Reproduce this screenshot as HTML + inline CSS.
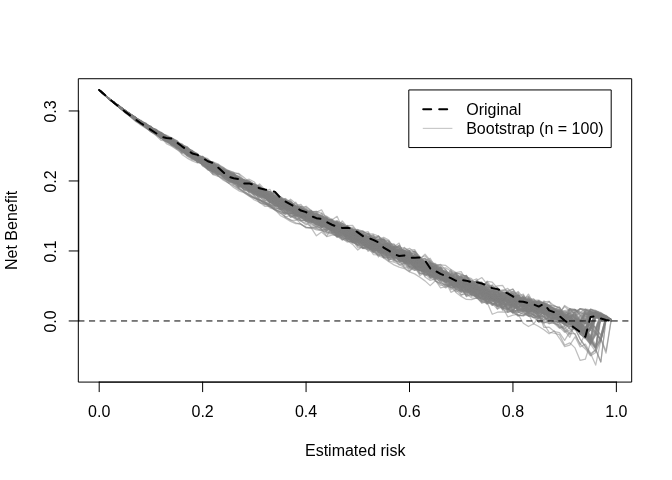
<!DOCTYPE html>
<html lang="en">
<head>
<meta charset="utf-8">
<title>Decision curve stability</title>
<style>
html,body{margin:0;padding:0;background:#fff}
body{width:672px;height:480px;overflow:hidden}
svg{display:block}
</style>
</head>
<body>
<svg width="672" height="480" viewBox="0 0 672 480">
<rect width="672" height="480" fill="#fff"/>
<g fill="none" stroke="#7f7f7f" stroke-opacity="0.5" stroke-width="1.25" stroke-linejoin="round" stroke-linecap="round">
<path d="M99.2 89.96L104.37 94.6L109.54 99.18L114.72 102.93L119.89 107.36L125.06 111.22L130.23 113.97L135.4 117.9L140.57 121.37L145.75 124.7L150.92 127.74L156.09 133.89L161.26 133.44L166.43 137.25L171.6 141.36L176.78 143.74L181.95 148.07L187.12 151.16L192.29 156.54L197.46 159.91L202.63 159.74L207.81 164.07L212.98 168.3L218.15 168.85L223.32 174.72L228.49 175.99L233.66 180.2L238.84 182.57L244.01 187.11L249.18 189.25L254.35 193.24L259.52 195.15L264.69 192.8L269.87 194.28L275.04 196.03L280.21 200.36L285.38 203.96L290.55 208.74L295.72 208.48L300.9 213.06L306.07 216.36L311.24 218.87L316.41 219.49L321.58 221.03L326.75 222.21L331.93 225.95L337.1 228.04L342.27 220.9L347.44 227.11L352.61 229.09L357.78 229.62L362.96 231.07L368.13 238.31L373.3 237.01L378.47 236.84L383.64 242.75L388.82 243.75L393.99 243.88L399.16 251.27L404.33 253.37L409.5 258.43L414.67 255.19L419.85 265.45L425.02 263.38L430.19 266.07L435.36 267.81L440.53 272.89L445.7 273.81L450.88 282.34L456.05 280.59L461.22 287.18L466.39 289.55L471.56 289.18L476.73 297.42L481.91 303.27L487.08 301.43L492.25 303.17L497.42 303.93L502.59 304.14L507.76 305.04L512.94 302.29L518.11 307L523.28 310.64L528.45 309.01L533.62 309.28L538.79 313.31L543.97 311.68L549.14 316.74L554.31 319.35L559.48 314.26L564.65 319.69L569.82 319.11L575 319.03L580.17 324.16L585.34 329.59L590.51 311.16L595.68 313.26L600.85 314.66L606.03 316.76L611.2 320.26"/>
<path d="M99.2 89.96L104.37 94.62L109.54 99.22L114.72 103.29L119.89 106.7L125.06 111.58L130.23 116.49L135.4 121.4L140.57 124.09L145.75 127.1L150.92 131.8L156.09 133.98L161.26 137.49L166.43 139.94L171.6 144.24L176.78 145.67L181.95 148.01L187.12 151.23L192.29 159.2L197.46 160.85L202.63 164.03L207.81 165.01L212.98 170.08L218.15 173.17L223.32 173.4L228.49 177.11L233.66 178.96L238.84 179.67L244.01 185.41L249.18 187.37L254.35 191.22L259.52 191.82L264.69 195.66L269.87 202.03L275.04 201.18L280.21 201.77L285.38 206.78L290.55 210.44L295.72 213.36L300.9 212.33L306.07 217.78L311.24 219.64L316.41 220.73L321.58 220.07L326.75 222.24L331.93 223.71L337.1 229.61L342.27 227.85L347.44 232.76L352.61 235.66L357.78 229.49L362.96 235.05L368.13 240.03L373.3 239.83L378.47 240.12L383.64 239.77L388.82 243.53L393.99 249.33L399.16 248.44L404.33 250.05L409.5 253.27L414.67 253.91L419.85 259.02L425.02 261.25L430.19 268.23L435.36 265.32L440.53 265.84L445.7 273.76L450.88 276.7L456.05 279.12L461.22 278.55L466.39 289.53L471.56 293.59L476.73 294.39L481.91 294.6L487.08 303.33L492.25 302.86L497.42 306.58L502.59 308.17L507.76 309.73L512.94 312.96L518.11 310.24L523.28 309.82L528.45 315.99L533.62 317.05L538.79 316.45L543.97 323.13L549.14 320.85L554.31 317.98L559.48 316.38L564.65 319.45L569.82 322.05L575 323.16L580.17 329.06L585.34 334.49L590.51 340.56L595.68 332.16L600.85 340.09L606.03 318.86L611.2 319.56"/>
<path d="M99.2 89.96L104.37 94.58L109.54 99.3L114.72 103L119.89 107.11L125.06 110.95L130.23 114.27L135.4 117.98L140.57 121.87L145.75 123.95L150.92 127.32L156.09 130.84L161.26 133.85L166.43 137.1L171.6 141.47L176.78 144.3L181.95 147.38L187.12 148.74L192.29 156.34L197.46 157.09L202.63 160.65L207.81 163.57L212.98 165.74L218.15 169.04L223.32 172.94L228.49 178.36L233.66 181.98L238.84 188.29L244.01 192.5L249.18 195.77L254.35 199.97L259.52 202.21L264.69 206.29L269.87 206.39L275.04 209.7L280.21 211.56L285.38 212.3L290.55 214.77L295.72 215.73L300.9 216.04L306.07 216.75L311.24 221.1L316.41 220.28L321.58 222.39L326.75 224.12L331.93 221.64L337.1 230.56L342.27 229.95L347.44 236.42L352.61 235.14L357.78 238.41L362.96 245.63L368.13 244.93L373.3 243.29L378.47 246.36L383.64 246.32L388.82 250.25L393.99 247.97L399.16 250.65L404.33 255.7L409.5 255.16L414.67 263L419.85 257.89L425.02 265.95L430.19 263.28L435.36 270.01L440.53 275.71L445.7 276.74L450.88 279.51L456.05 282.22L461.22 288.39L466.39 284.53L471.56 287.7L476.73 288.96L481.91 294.01L487.08 291.67L492.25 295.06L497.42 297.11L502.59 295.24L507.76 294.44L512.94 299.17L518.11 302.89L523.28 306.08L528.45 307.75L533.62 308.68L538.79 306.66L543.97 313.08L549.14 309.17L554.31 312.75L559.48 314.29L564.65 318.48L569.82 318.09L575 313.67L580.17 320.66L585.34 316.53L590.51 309.06L595.68 310.46L600.85 312.56L606.03 316.06L611.2 319.56"/>
<path d="M99.2 89.96L104.37 94.61L109.54 99.43L114.72 103.08L119.89 107.59L125.06 110.71L130.23 115.4L135.4 118.6L140.57 121.6L145.75 125.57L150.92 129.5L156.09 132.56L161.26 136.33L166.43 140.61L171.6 142.49L176.78 143.98L181.95 148.43L187.12 150.19L192.29 156L197.46 156.69L202.63 159.89L207.81 162.19L212.98 167.48L218.15 168.17L223.32 174.2L228.49 176.65L233.66 181.71L238.84 181.08L244.01 185.89L249.18 187.11L254.35 189.2L259.52 188.15L264.69 196.69L269.87 197.73L275.04 199.27L280.21 204.7L285.38 207.33L290.55 208.29L295.72 210.77L300.9 209.68L306.07 206.21L311.24 210.57L316.41 216.78L321.58 219.79L326.75 219.87L331.93 221.04L337.1 225.43L342.27 228.22L347.44 226.97L352.61 229.74L357.78 236.12L362.96 241.67L368.13 244.38L373.3 244.62L378.47 249.97L383.64 245.56L388.82 254.29L393.99 256.52L399.16 255.9L404.33 262.22L409.5 270.58L414.67 266.38L419.85 267.34L425.02 276.93L430.19 280.38L435.36 278.91L440.53 281.11L445.7 275.41L450.88 287.73L456.05 287.45L461.22 283.66L466.39 285.14L471.56 285.68L476.73 289.44L481.91 291.42L487.08 289.31L492.25 298.26L497.42 296.19L502.59 293.65L507.76 294.33L512.94 297.79L518.11 300.67L523.28 302.94L528.45 302.16L533.62 304.1L538.79 306.05L543.97 303.3L549.14 305.02L554.31 312.15L559.48 311.17L564.65 311.15L569.82 314.28L575 316.97L580.17 322.76L585.34 327.49L590.51 309.76L595.68 311.16L600.85 313.26L606.03 316.06L611.2 319.56"/>
<path d="M99.2 89.96L104.37 94.6L109.54 99.33L114.72 103.07L119.89 106.8L125.06 111.23L130.23 114.48L135.4 118.13L140.57 121.73L145.75 124.82L150.92 129.11L156.09 131.52L161.26 136.27L166.43 136.45L171.6 141.23L176.78 143.4L181.95 147.5L187.12 152.06L192.29 153.34L197.46 162.4L202.63 162.7L207.81 167.99L212.98 172.02L218.15 171.33L223.32 175.94L228.49 175.39L233.66 176.96L238.84 180.33L244.01 184.01L249.18 187.46L254.35 186.72L259.52 191.34L264.69 193.88L269.87 193.52L275.04 193.41L280.21 196.73L285.38 201.71L290.55 202.62L295.72 204.52L300.9 209.45L306.07 211.78L311.24 212.38L316.41 217.9L321.58 219L326.75 220.38L331.93 220.27L337.1 228.7L342.27 229.48L347.44 234.71L352.61 234.69L357.78 235.56L362.96 241.8L368.13 244.5L373.3 249.29L378.47 250.99L383.64 251.81L388.82 254.61L393.99 256.5L399.16 258.51L404.33 259.35L409.5 259.41L414.67 263.26L419.85 266.32L425.02 269.48L430.19 269.41L435.36 265.04L440.53 275.83L445.7 275.48L450.88 274.6L456.05 278.8L461.22 282.71L466.39 283.71L471.56 281.8L476.73 285.27L481.91 294.71L487.08 292.67L492.25 298.02L497.42 298.66L502.59 298.83L507.76 302.42L512.94 302.47L518.11 306.72L523.28 303.47L528.45 306.21L533.62 308.14L538.79 304.7L543.97 313.12L549.14 315.04L554.31 317.47L559.48 322.03L564.65 323.71L569.82 328.31L575 327.8L580.17 333.26L585.34 337.99L590.51 316.76L595.68 318.16L600.85 318.86L606.03 319.56L611.2 320.26"/>
<path d="M99.2 89.96L104.37 94.57L109.54 99.25L114.72 102.94L119.89 106.62L125.06 111.32L130.23 115.4L135.4 119.13L140.57 122.74L145.75 125.78L150.92 126.91L156.09 130.34L161.26 134.67L166.43 136.26L171.6 138.88L176.78 143.85L181.95 148.29L187.12 150.11L192.29 151.67L197.46 156.65L202.63 158.4L207.81 161.63L212.98 163.57L218.15 165.61L223.32 169.88L228.49 174.62L233.66 174.64L238.84 177.18L244.01 181.62L249.18 182.77L254.35 190.14L259.52 192.73L264.69 193.11L269.87 194.46L275.04 197.94L280.21 201.54L285.38 205.13L290.55 208.89L295.72 215.56L300.9 215.49L306.07 217.49L311.24 218.36L316.41 218.27L321.58 218.74L326.75 226.02L331.93 227.28L337.1 225.02L342.27 230.82L347.44 235.59L352.61 234.14L357.78 233.8L362.96 238.87L368.13 233.83L373.3 241.44L378.47 244.39L383.64 244.85L388.82 247.1L393.99 253.51L399.16 256.16L404.33 257.39L409.5 252.23L414.67 265.52L419.85 261.31L425.02 268.41L430.19 272.33L435.36 269.14L440.53 271.52L445.7 272.29L450.88 275.5L456.05 281.63L461.22 284.1L466.39 284.95L471.56 283.31L476.73 282.3L481.91 286.7L487.08 286.32L492.25 288.43L497.42 290.95L502.59 297.22L507.76 299.93L512.94 303.54L518.11 300.04L523.28 309.04L528.45 305.97L533.62 307.67L538.79 304.25L543.97 305.87L549.14 312L554.31 310.76L559.48 312.89L564.65 316.58L569.82 320.65L575 322.25L580.17 331.16L585.34 335.89L590.51 315.36L595.68 316.06L600.85 316.76L606.03 318.86L611.2 320.26"/>
<path d="M99.2 89.96L104.37 94.69L109.54 99.1L114.72 103.14L119.89 106.65L125.06 110.61L130.23 115.64L135.4 118L140.57 121.51L145.75 123.94L150.92 127.57L156.09 130.61L161.26 136.54L166.43 138.13L171.6 141.92L176.78 146.15L181.95 150.32L187.12 154.52L192.29 153.83L197.46 154.47L202.63 161.56L207.81 163.47L212.98 166.44L218.15 170.38L223.32 172.43L228.49 178.28L233.66 179.1L238.84 181.47L244.01 183.41L249.18 186.73L254.35 190.95L259.52 193.96L264.69 196.32L269.87 196.57L275.04 201.67L280.21 205.32L285.38 207.33L290.55 206.69L295.72 210.95L300.9 210.85L306.07 212.77L311.24 211.24L316.41 212.17L321.58 209.91L326.75 219.2L331.93 220.61L337.1 222.95L342.27 229.07L347.44 231.13L352.61 229.47L357.78 238.51L362.96 245.27L368.13 247.8L373.3 248.72L378.47 251.4L383.64 257.94L388.82 257.98L393.99 254.19L399.16 256.29L404.33 262.18L409.5 263.29L414.67 265.98L419.85 272.87L425.02 274.47L430.19 274.65L435.36 280.09L440.53 287.79L445.7 286.56L450.88 284.62L456.05 283.62L461.22 291.71L466.39 281.58L471.56 293.97L476.73 292.29L481.91 296.04L487.08 298.26L492.25 303.6L497.42 306.08L502.59 303.08L507.76 308.71L512.94 313.25L518.11 294.64L523.28 300.94L528.45 301.45L533.62 312.42L538.79 310.88L543.97 309.82L549.14 309.52L554.31 312.69L559.48 315.14L564.65 315.5L569.82 322.79L575 326.08L580.17 331.16L585.34 335.89L590.51 316.06L595.68 315.36L600.85 317.46L606.03 319.56L611.2 320.26"/>
<path d="M99.2 89.96L104.37 94.66L109.54 99.31L114.72 102.95L119.89 107.89L125.06 111.71L130.23 116.06L135.4 119.63L140.57 122.55L145.75 126.45L150.92 129.49L156.09 133.4L161.26 136.76L166.43 139.56L171.6 140.36L176.78 141.73L181.95 146.42L187.12 151.92L192.29 151.9L197.46 157.98L202.63 160.69L207.81 164.21L212.98 167.99L218.15 170.51L223.32 174.76L228.49 176.79L233.66 179.86L238.84 182L244.01 186.66L249.18 188.42L254.35 192.16L259.52 190.09L264.69 192.84L269.87 198.44L275.04 200.79L280.21 203.49L285.38 205.38L290.55 204.97L295.72 210.76L300.9 216.17L306.07 213.08L311.24 222.52L316.41 222.12L321.58 229.43L326.75 236.23L331.93 226.82L337.1 231.99L342.27 239.85L347.44 237.41L352.61 240.06L357.78 242.75L362.96 247.19L368.13 245.88L373.3 245.25L378.47 247.6L383.64 244.97L388.82 250.97L393.99 247.8L399.16 257.84L404.33 255.95L409.5 266.32L414.67 268.68L419.85 264.95L425.02 275.09L430.19 273.24L435.36 280.43L440.53 285.39L445.7 284.61L450.88 287.3L456.05 291.92L461.22 289.58L466.39 290.49L471.56 295.34L476.73 291.84L481.91 289.75L487.08 292.58L492.25 290.79L497.42 287.42L502.59 297.02L507.76 302.46L512.94 306.31L518.11 309.73L523.28 309.85L528.45 312.31L533.62 315.18L538.79 318.38L543.97 314.34L549.14 320.49L554.31 321.56L559.48 327.76L564.65 325.62L569.82 326.21L575 328.62L580.17 339.06L585.34 346.86L590.51 353.86L595.68 349.66L600.85 340.79L606.03 319.56L611.2 320.26"/>
<path d="M99.2 89.96L104.37 94.57L109.54 99.14L114.72 102.83L119.89 106.76L125.06 110.74L130.23 114.86L135.4 117.89L140.57 122.44L145.75 125.66L150.92 128.5L156.09 130.95L161.26 136.93L166.43 138.16L171.6 142.65L176.78 146.45L181.95 149.3L187.12 151.1L192.29 153.61L197.46 156.19L202.63 161.62L207.81 162.61L212.98 162.61L218.15 173.07L223.32 171.84L228.49 176.3L233.66 177.88L238.84 182.87L244.01 190.41L249.18 189.71L254.35 191.01L259.52 195.83L264.69 199.71L269.87 201.72L275.04 206.07L280.21 204.51L285.38 209.77L290.55 208.86L295.72 215.77L300.9 212.72L306.07 215.23L311.24 220.02L316.41 217.78L321.58 220.84L326.75 221.93L331.93 218.78L337.1 225.94L342.27 230.06L347.44 228.41L352.61 234.49L357.78 233.79L362.96 237.59L368.13 244.32L373.3 245.28L378.47 243.65L383.64 246.15L388.82 250.85L393.99 255.39L399.16 255.68L404.33 261.34L409.5 259.29L414.67 268.27L419.85 273.75L425.02 273.49L430.19 274.13L435.36 276.08L440.53 279.42L445.7 277.92L450.88 277.97L456.05 285.48L461.22 287.03L466.39 281.6L471.56 287.39L476.73 285.76L481.91 283.79L487.08 288.94L492.25 294.71L497.42 291.64L502.59 297.66L507.76 301.71L512.94 300.29L518.11 301.91L523.28 304.73L528.45 305.99L533.62 304.96L538.79 311.52L543.97 309.34L549.14 312.72L554.31 312.99L559.48 318.59L564.65 320.16L569.82 322.94L575 320.47L580.17 327.66L585.34 320.73L590.51 313.26L595.68 313.26L600.85 315.36L606.03 318.16L611.2 319.56"/>
<path d="M99.2 89.96L104.37 94.62L109.54 99.26L114.72 103.01L119.89 107.82L125.06 112.04L130.23 115.3L135.4 120.37L140.57 123.41L145.75 126.24L150.92 130.01L156.09 132.17L161.26 136.19L166.43 138.57L171.6 141.05L176.78 144.2L181.95 145.3L187.12 146.7L192.29 151.57L197.46 157.78L202.63 160.5L207.81 164.74L212.98 164.33L218.15 168.98L223.32 172.24L228.49 175.41L233.66 174.96L238.84 179.09L244.01 180.21L249.18 184.55L254.35 188.45L259.52 189.04L264.69 188.8L269.87 194.03L275.04 196.44L280.21 199.1L285.38 200.11L290.55 202.15L295.72 206.05L300.9 204.47L306.07 210.39L311.24 213.75L316.41 217.96L321.58 219.89L326.75 227.23L331.93 227.64L337.1 229.28L342.27 232.52L347.44 239.67L352.61 235.74L357.78 241.08L362.96 243.35L368.13 246.7L373.3 248.63L378.47 249.71L383.64 253.19L388.82 255.76L393.99 253.29L399.16 255.5L404.33 259L409.5 260.68L414.67 262.99L419.85 258.77L425.02 258.6L430.19 267.4L435.36 266.46L440.53 267.89L445.7 274.42L450.88 271.37L456.05 281.75L461.22 286.75L466.39 289.75L471.56 287.27L476.73 285.09L481.91 288.7L487.08 290.43L492.25 298.5L497.42 294.49L502.59 300.67L507.76 299.65L512.94 301.03L518.11 301.19L523.28 302.4L528.45 300.69L533.62 302.39L538.79 301.61L543.97 302.55L549.14 309.24L554.31 312.57L559.48 313L564.65 313.78L569.82 322.51L575 318.24L580.17 327.66L585.34 332.39L590.51 313.96L595.68 315.36L600.85 315.36L606.03 318.16L611.2 320.26"/>
<path d="M99.2 89.96L104.37 94.53L109.54 99.25L114.72 102.82L119.89 107.1L125.06 110.76L130.23 114.78L135.4 118.65L140.57 121.01L145.75 127.37L150.92 129.22L156.09 131.52L161.26 135.36L166.43 140.09L171.6 140.83L176.78 143.95L181.95 150.31L187.12 152.03L192.29 158.92L197.46 160.5L202.63 163.99L207.81 163.94L212.98 171.43L218.15 169.44L223.32 172.74L228.49 174.47L233.66 180.97L238.84 184.76L244.01 182.84L249.18 192.15L254.35 194.74L259.52 194.72L264.69 196.84L269.87 196.65L275.04 199.89L280.21 208.73L285.38 213.92L290.55 209.4L295.72 210.98L300.9 215.62L306.07 216.94L311.24 221.81L316.41 220.24L321.58 225.18L326.75 227.48L331.93 225.34L337.1 227.78L342.27 223.55L347.44 226.95L352.61 230.48L357.78 230.61L362.96 231.36L368.13 235.92L373.3 241L378.47 241.48L383.64 241.53L388.82 250.34L393.99 251.28L399.16 252.02L404.33 257.15L409.5 264.78L414.67 266.46L419.85 270.41L425.02 270.24L430.19 272.44L435.36 274.47L440.53 280.33L445.7 286.88L450.88 285.17L456.05 284.48L461.22 285.39L466.39 283.48L471.56 291.67L476.73 294.38L481.91 293.06L487.08 301.43L492.25 305.26L497.42 299.93L502.59 305.45L507.76 307.92L512.94 312.7L518.11 315.15L523.28 315.75L528.45 311.74L533.62 308.48L538.79 317.15L543.97 312.55L549.14 317.71L554.31 321.17L559.48 322.56L564.65 329.12L569.82 334.91L575 321.2L580.17 331.16L585.34 335.89L590.51 344.06L595.68 317.46L600.85 318.16L606.03 318.16L611.2 319.56"/>
<path d="M99.2 89.96L104.37 94.64L109.54 99.28L114.72 102.75L119.89 107.2L125.06 111.6L130.23 115.78L135.4 120.32L140.57 124.06L145.75 125.73L150.92 129.8L156.09 132.75L161.26 136.17L166.43 140.05L171.6 142.81L176.78 146.83L181.95 150.6L187.12 154.88L192.29 156.26L197.46 160.87L202.63 160.94L207.81 166.02L212.98 167.02L218.15 167.74L223.32 171.91L228.49 172.23L233.66 176.85L238.84 179.32L244.01 183.14L249.18 184.97L254.35 184.77L259.52 189.21L264.69 191.59L269.87 197.69L275.04 202.27L280.21 206.74L285.38 212.01L290.55 215.39L295.72 217.72L300.9 221.21L306.07 223.41L311.24 226.57L316.41 228.2L321.58 230.01L326.75 231.79L331.93 233.48L337.1 235.78L342.27 237.6L347.44 238.83L352.61 239.04L357.78 241.22L362.96 237.35L368.13 246.18L373.3 243.05L378.47 249.05L383.64 251.73L388.82 247.37L393.99 255.84L399.16 258.41L404.33 258.78L409.5 260.23L414.67 254.74L419.85 261.73L425.02 263.45L430.19 269.58L435.36 269.81L440.53 270.83L445.7 271.97L450.88 279.96L456.05 282.23L461.22 288L466.39 295.68L471.56 294.62L476.73 295.2L481.91 301.69L487.08 296.55L492.25 296.92L497.42 303.28L502.59 308.94L507.76 301.51L512.94 303.86L518.11 304.94L523.28 305.88L528.45 313.54L533.62 314.1L538.79 318.19L543.97 319.77L549.14 311.76L554.31 310.59L559.48 311.58L564.65 315.52L569.82 319.76L575 320.5L580.17 324.16L585.34 319.33L590.51 324.46L595.68 312.56L600.85 314.66L606.03 315.36L611.2 319.56"/>
<path d="M99.2 89.96L104.37 94.52L109.54 99.18L114.72 103.05L119.89 106.42L125.06 111.34L130.23 114.77L135.4 117.89L140.57 121.22L145.75 123.57L150.92 128.13L156.09 129.4L161.26 134.34L166.43 137.19L171.6 141.8L176.78 141.67L181.95 146.98L187.12 149.2L192.29 151.42L197.46 157.9L202.63 166.05L207.81 169.11L212.98 174.36L218.15 176.33L223.32 179.33L228.49 182.99L233.66 187.5L238.84 190.8L244.01 192.77L249.18 196.32L254.35 197.86L259.52 200.25L264.69 202.69L269.87 205.1L275.04 207.65L280.21 208.94L285.38 210.17L290.55 213.76L295.72 213.41L300.9 215.09L306.07 216.13L311.24 218.56L316.41 222.07L321.58 227.05L326.75 222.3L331.93 226.66L337.1 227.86L342.27 228.2L347.44 229.55L352.61 234.03L357.78 237.61L362.96 235.05L368.13 238.53L373.3 245.05L378.47 248.24L383.64 249.09L388.82 253.15L393.99 258.56L399.16 256.13L404.33 260.58L409.5 263.98L414.67 260.73L419.85 262.42L425.02 266.55L430.19 265.82L435.36 268.16L440.53 272.63L445.7 271.91L450.88 276.77L456.05 276.13L461.22 283.3L466.39 288.02L471.56 288.92L476.73 287.42L481.91 290.93L487.08 286.97L492.25 287.2L497.42 296.8L502.59 296.19L507.76 301.83L512.94 298.14L518.11 301.32L523.28 295.2L528.45 302.15L533.62 310.73L538.79 310L543.97 311.98L549.14 317.61L554.31 319.57L559.48 316.65L564.65 313.74L569.82 317.39L575 321.38L580.17 327.66L585.34 333.09L590.51 327.26L595.68 313.26L600.85 316.06L606.03 316.76L611.2 319.56"/>
<path d="M99.2 89.96L104.37 94.55L109.54 99.27L114.72 103L119.89 107.46L125.06 110.22L130.23 113.76L135.4 117.38L140.57 121.76L145.75 125.39L150.92 128.52L156.09 132.09L161.26 135.5L166.43 137.2L171.6 143.15L176.78 146.77L181.95 149.37L187.12 151.89L192.29 158.45L197.46 157.04L202.63 160.26L207.81 164.32L212.98 168.35L218.15 170.86L223.32 174.16L228.49 179.18L233.66 176.87L238.84 177.62L244.01 182.63L249.18 182.05L254.35 188.99L259.52 192.75L264.69 192.55L269.87 197.4L275.04 199.86L280.21 201.08L285.38 206.43L290.55 209.81L295.72 208.06L300.9 211.65L306.07 216.53L311.24 217.59L316.41 220.71L321.58 221.18L326.75 225.57L331.93 226.31L337.1 236.64L342.27 238.58L347.44 242.21L352.61 241.06L357.78 240.93L362.96 239.72L368.13 245.93L373.3 247.05L378.47 250.16L383.64 252.31L388.82 253.99L393.99 255.35L399.16 261.07L404.33 259.63L409.5 262.35L414.67 266.41L419.85 270.74L425.02 271.75L430.19 265.12L435.36 279.35L440.53 272.92L445.7 273.25L450.88 277.48L456.05 279.32L461.22 276.87L466.39 275.37L471.56 284.28L476.73 285.42L481.91 288.86L487.08 293.54L492.25 294L497.42 302.4L502.59 302.8L507.76 309.82L512.94 301.93L518.11 311.83L523.28 314.48L528.45 311.77L533.62 311.4L538.79 308.26L543.97 313.81L549.14 315.16L554.31 316.4L559.48 311.61L564.65 310.72L569.82 309.55L575 309.77L580.17 314.86L585.34 319.33L590.51 309.06L595.68 311.86L600.85 313.96L606.03 316.76L611.2 320.96"/>
<path d="M99.2 89.96L104.37 94.6L109.54 99.31L114.72 103.08L119.89 106.47L125.06 110.64L130.23 114.27L135.4 117.92L140.57 122.07L145.75 125.56L150.92 130.15L156.09 132.2L161.26 136.74L166.43 139.95L171.6 141.14L176.78 146.54L181.95 152.94L187.12 152.79L192.29 156.38L197.46 157.23L202.63 157.89L207.81 164.98L212.98 166.29L218.15 172.89L223.32 175.63L228.49 178.48L233.66 180.33L238.84 186.8L244.01 185.75L249.18 193.41L254.35 197.29L259.52 200.07L264.69 202.75L269.87 207.93L275.04 209.56L280.21 215.46L285.38 218.19L290.55 221.38L295.72 223.72L300.9 223.95L306.07 227.89L311.24 227.65L316.41 228.81L321.58 230.34L326.75 231.78L331.93 232.04L337.1 232.84L342.27 230.88L347.44 236.86L352.61 234.03L357.78 238.96L362.96 241.37L368.13 245.56L373.3 250.7L378.47 248.77L383.64 250.81L388.82 249.94L393.99 258L399.16 252.53L404.33 258.79L409.5 259.62L414.67 259.82L419.85 260.9L425.02 267.26L430.19 270.56L435.36 272.84L440.53 270.07L445.7 276.09L450.88 275.17L456.05 282.75L461.22 285.69L466.39 284.27L471.56 291.52L476.73 297.37L481.91 302.67L487.08 299.71L492.25 297.92L497.42 291.31L502.59 296L507.76 295.32L512.94 298.59L518.11 298.61L523.28 297.75L528.45 303.31L533.62 302.73L538.79 305.06L543.97 305.93L549.14 310.9L554.31 314.33L559.48 318.41L564.65 323.8L569.82 322.89L575 322.96L580.17 333.96L585.34 327.03L590.51 330.06L595.68 317.46L600.85 318.16L606.03 318.16L611.2 320.96"/>
<path d="M99.2 89.96L104.37 94.71L109.54 99.2L114.72 103.01L119.89 106.91L125.06 110.53L130.23 113.79L135.4 117.42L140.57 121.57L145.75 125.17L150.92 129.42L156.09 129.67L161.26 132.31L166.43 136.1L171.6 138.86L176.78 144.34L181.95 145.94L187.12 150.58L192.29 154.4L197.46 153.91L202.63 161.77L207.81 163.1L212.98 166.91L218.15 169.72L223.32 171.25L228.49 176.1L233.66 181.32L238.84 181.21L244.01 187.25L249.18 189.6L254.35 192.9L259.52 191.24L264.69 191.6L269.87 197.18L275.04 204.18L280.21 203.95L285.38 204.05L290.55 208.47L295.72 206.32L300.9 208.36L306.07 212.35L311.24 212.99L316.41 214.06L321.58 217.1L326.75 222.51L331.93 222.49L337.1 231.4L342.27 233.53L347.44 234.44L352.61 238.06L357.78 239.98L362.96 244.72L368.13 243.69L373.3 240.79L378.47 241.92L383.64 243.59L388.82 244.11L393.99 250.45L399.16 249.59L404.33 251.63L409.5 257.09L414.67 259.01L419.85 258.77L425.02 263.74L430.19 269.73L435.36 273.27L440.53 277.84L445.7 278.06L450.88 284L456.05 288.89L461.22 290.37L466.39 294.07L471.56 297.81L476.73 298.49L481.91 298.76L487.08 299L492.25 297.24L497.42 306.03L502.59 303.48L507.76 303.85L512.94 306.62L518.11 308.86L523.28 311.15L528.45 307.63L533.62 312.05L538.79 316.81L543.97 311.36L549.14 314.39L554.31 319.45L559.48 318.08L564.65 325.99L569.82 324.07L575 330.13L580.17 331.16L585.34 335.19L590.51 341.96L595.68 333.56L600.85 339.39L606.03 318.86L611.2 320.26"/>
<path d="M99.2 89.96L104.37 94.59L109.54 99.44L114.72 103L119.89 107.11L125.06 111.08L130.23 114.72L135.4 118.59L140.57 122.19L145.75 125.39L150.92 129.18L156.09 133.89L161.26 137.22L166.43 140.95L171.6 142.82L176.78 146.98L181.95 150.7L187.12 154.81L192.29 156.96L197.46 159.19L202.63 164.36L207.81 169.32L212.98 172.28L218.15 171.12L223.32 177.46L228.49 181.02L233.66 181.76L238.84 184.59L244.01 188.94L249.18 191.41L254.35 188.95L259.52 195.18L264.69 197.8L269.87 201.54L275.04 206.37L280.21 210.18L285.38 207.51L290.55 209.48L295.72 211.52L300.9 215.53L306.07 218.13L311.24 218.04L316.41 222.84L321.58 220.21L326.75 220.45L331.93 220.7L337.1 226.45L342.27 231.1L347.44 234.43L352.61 241.01L357.78 235.36L362.96 235.88L368.13 237.48L373.3 240.55L378.47 243.52L383.64 248.27L388.82 248.25L393.99 247.13L399.16 254.13L404.33 254.74L409.5 256.53L414.67 251.13L419.85 258.18L425.02 265.22L430.19 274.77L435.36 269.96L440.53 277.17L445.7 278.69L450.88 282.39L456.05 283.72L461.22 287.22L466.39 286.44L471.56 283.32L476.73 287.94L481.91 292.29L487.08 293.97L492.25 294.58L497.42 297.09L502.59 295.95L507.76 299.39L512.94 305.35L518.11 293.75L523.28 300.61L528.45 298.88L533.62 299.21L538.79 304.16L543.97 305.81L549.14 305.62L554.31 308.82L559.48 312.49L564.65 306.51L569.82 310.99L575 313.27L580.17 321.86L585.34 313.96L590.51 314.66L595.68 316.06L600.85 317.46L606.03 318.86L611.2 319.56"/>
<path d="M99.2 89.96L104.37 94.58L109.54 99.19L114.72 103.08L119.89 107.03L125.06 110.86L130.23 114.38L135.4 118.71L140.57 121.93L145.75 125.1L150.92 130.61L156.09 132.85L161.26 135.67L166.43 136.78L171.6 141.42L176.78 145.49L181.95 146.21L187.12 148.95L192.29 152.6L197.46 157.58L202.63 163.93L207.81 166.14L212.98 169.24L218.15 169.88L223.32 174.21L228.49 175.81L233.66 176.89L238.84 180.02L244.01 180.27L249.18 181.47L254.35 184.1L259.52 186.2L264.69 189.57L269.87 192.03L275.04 194.86L280.21 199.83L285.38 205.92L290.55 209.53L295.72 214.14L300.9 213.2L306.07 217.43L311.24 221.29L316.41 219.22L321.58 220.53L326.75 226.02L331.93 224L337.1 224.1L342.27 234.01L347.44 230.11L352.61 232.74L357.78 236.9L362.96 237.57L368.13 243.8L373.3 246.56L378.47 248.27L383.64 248.12L388.82 249.18L393.99 254.58L399.16 251.18L404.33 250.12L409.5 255.87L414.67 259.01L419.85 267.36L425.02 268.28L430.19 271.78L435.36 270.79L440.53 276.36L445.7 275.42L450.88 281.25L456.05 281.27L461.22 282.58L466.39 285.67L471.56 294.12L476.73 286.95L481.91 292.63L487.08 295.61L492.25 297.44L497.42 298.88L502.59 300.31L507.76 300.41L512.94 300.79L518.11 301.64L523.28 305.79L528.45 303.33L533.62 308.08L538.79 314.03L543.97 307.66L549.14 312.95L554.31 315.38L559.48 314.39L564.65 319.1L569.82 316.35L575 321.62L580.17 330.46L585.34 335.19L590.51 341.26L595.68 315.36L600.85 316.06L606.03 317.46L611.2 320.26"/>
<path d="M99.2 89.96L104.37 94.62L109.54 99.47L114.72 102.97L119.89 106.42L125.06 111.64L130.23 114.27L135.4 118.34L140.57 121.56L145.75 125.82L150.92 129.79L156.09 132L161.26 136.37L166.43 140.16L171.6 142.92L176.78 146.34L181.95 150.42L187.12 148.25L192.29 154.96L197.46 157.79L202.63 161.29L207.81 165.35L212.98 165.62L218.15 166.95L223.32 170.3L228.49 172.06L233.66 173.5L238.84 179.59L244.01 182.81L249.18 189.02L254.35 196.26L259.52 199.17L264.69 204.97L269.87 203.85L275.04 208.51L280.21 209.71L285.38 214.25L290.55 212.42L295.72 216.81L300.9 214.89L306.07 219.26L311.24 221.62L316.41 220.2L321.58 222.36L326.75 228.62L331.93 227.02L337.1 231.44L342.27 232.03L347.44 234.91L352.61 239.99L357.78 239.35L362.96 238.63L368.13 236.02L373.3 238.15L378.47 243.36L383.64 240.93L388.82 247.87L393.99 249.13L399.16 250.51L404.33 252.97L409.5 251.96L414.67 259.5L419.85 264.99L425.02 262.55L430.19 270.85L435.36 271.47L440.53 279.53L445.7 272.39L450.88 274.91L456.05 279.6L461.22 283.53L466.39 283.02L471.56 285.2L476.73 284.55L481.91 290.3L487.08 290.02L492.25 285.01L497.42 290.57L502.59 299.99L507.76 295.44L512.94 295.89L518.11 298.83L523.28 300.79L528.45 305.31L533.62 310.79L538.79 309.12L543.97 303.7L549.14 314.61L554.31 314.17L559.48 314.14L564.65 318.6L569.82 312.95L575 309.62L580.17 311.86L585.34 313.26L590.51 314.66L595.68 315.36L600.85 317.46L606.03 318.86L611.2 320.26"/>
<path d="M99.2 89.96L104.37 94.57L109.54 99.22L114.72 102.91L119.89 107.22L125.06 110.47L130.23 114.32L135.4 117.97L140.57 120.95L145.75 125.62L150.92 129.69L156.09 133.13L161.26 138.1L166.43 139.09L171.6 140.85L176.78 145.93L181.95 147.77L187.12 151.72L192.29 154.19L197.46 157.45L202.63 160.04L207.81 162.41L212.98 166.14L218.15 172.07L223.32 173.84L228.49 178.38L233.66 184.72L238.84 181.1L244.01 186.08L249.18 186.68L254.35 187.7L259.52 187.2L264.69 192.88L269.87 193.55L275.04 199.42L280.21 202.36L285.38 198.46L290.55 202.04L295.72 205.99L300.9 210.94L306.07 213.11L311.24 216.98L316.41 214.15L321.58 216.09L326.75 219.07L331.93 223.34L337.1 221.98L342.27 225.77L347.44 230.84L352.61 236.47L357.78 235.47L362.96 234.38L368.13 241.2L373.3 241.02L378.47 239.31L383.64 237.36L388.82 240.17L393.99 247.99L399.16 245.18L404.33 252.87L409.5 253.74L414.67 253.7L419.85 259.09L425.02 260.88L430.19 258.22L435.36 267.2L440.53 270.11L445.7 278.47L450.88 282.44L456.05 286L461.22 284.29L466.39 288.73L471.56 291.65L476.73 292.54L481.91 294.42L487.08 299.19L492.25 300.95L497.42 296.98L502.59 299.59L507.76 301.1L512.94 301.69L518.11 301.59L523.28 301.21L528.45 307.4L533.62 301.74L538.79 305.59L543.97 309.47L549.14 314.7L554.31 312.45L559.48 320.24L564.65 319.77L569.82 317.13L575 312.82L580.17 308.72L585.34 310.46L590.51 311.86L595.68 315.36L600.85 315.36L606.03 317.46L611.2 319.56"/>
<path d="M99.2 89.96L104.37 94.48L109.54 99.29L114.72 102.71L119.89 107.15L125.06 110.52L130.23 116L135.4 119.05L140.57 122.41L145.75 127.08L150.92 131.44L156.09 132.83L161.26 136.81L166.43 139.65L171.6 142.29L176.78 144.74L181.95 152.71L187.12 150.64L192.29 155.33L197.46 158.92L202.63 162.6L207.81 167.66L212.98 169.1L218.15 169.34L223.32 175.69L228.49 181.1L233.66 182.08L238.84 182.02L244.01 187.12L249.18 190.68L254.35 190.11L259.52 193.64L264.69 197.18L269.87 201.41L275.04 205.34L280.21 205.31L285.38 207.22L290.55 206.9L295.72 210.62L300.9 209.25L306.07 211.4L311.24 215L316.41 220.21L321.58 227.5L326.75 225.38L331.93 227.77L337.1 228.48L342.27 229.6L347.44 235.43L352.61 238.67L357.78 236.77L362.96 241.57L368.13 244.34L373.3 242.25L378.47 245.17L383.64 251L388.82 250.46L393.99 246.77L399.16 254.9L404.33 252.5L409.5 252.22L414.67 251.72L419.85 259.2L425.02 254.12L430.19 260.44L435.36 264.45L440.53 264.85L445.7 265.49L450.88 269.44L456.05 272.6L461.22 271.6L466.39 280.56L471.56 283.03L476.73 281.91L481.91 285.55L487.08 286.76L492.25 296.22L497.42 292.63L502.59 295.31L507.76 291.59L512.94 303.08L518.11 299.54L523.28 303.02L528.45 305.44L533.62 303.83L538.79 301.41L543.97 308.62L549.14 311.77L554.31 307.8L559.48 310.53L564.65 315.95L569.82 311.94L575 312.56L580.17 321.16L585.34 312.56L590.51 313.96L595.68 315.36L600.85 315.36L606.03 318.16L611.2 320.26"/>
<path d="M99.2 89.96L104.37 94.65L109.54 99.24L114.72 102.94L119.89 107.93L125.06 111.58L130.23 115.01L135.4 118.98L140.57 121.52L145.75 124.71L150.92 126.22L156.09 131.56L161.26 137.38L166.43 141.75L171.6 144.61L176.78 147.68L181.95 149.36L187.12 150.79L192.29 154.49L197.46 158.7L202.63 161.76L207.81 165.77L212.98 170.05L218.15 170.13L223.32 169.94L228.49 170.81L233.66 175.71L238.84 176.48L244.01 180.12L249.18 184.51L254.35 191.46L259.52 195.4L264.69 196.06L269.87 197.62L275.04 201.2L280.21 202.02L285.38 206.44L290.55 209.43L295.72 212.32L300.9 213.02L306.07 215.19L311.24 217.67L316.41 219.55L321.58 221.09L326.75 224.69L331.93 230.15L337.1 228.78L342.27 235.32L347.44 237.14L352.61 235.19L357.78 238.69L362.96 244.94L368.13 247.33L373.3 251.77L378.47 250.07L383.64 257.32L388.82 251.22L393.99 260.87L399.16 253.21L404.33 260.82L409.5 262.53L414.67 265.41L419.85 265.8L425.02 268.31L430.19 268.74L435.36 273.59L440.53 276.61L445.7 280.76L450.88 279.39L456.05 281.43L461.22 282.91L466.39 282.04L471.56 285.74L476.73 287.22L481.91 290.12L487.08 292.55L492.25 294.76L497.42 289.44L502.59 297.55L507.76 295.9L512.94 292.42L518.11 307.45L523.28 304.73L528.45 301.88L533.62 307.53L538.79 300.59L543.97 310.68L549.14 305.28L554.31 305.31L559.48 309.07L564.65 315.87L569.82 315.4L575 320.68L580.17 328.36L585.34 331.69L590.51 312.56L595.68 313.26L600.85 313.96L606.03 316.76L611.2 320.96"/>
<path d="M99.2 89.96L104.37 94.53L109.54 99.19L114.72 103.3L119.89 107.63L125.06 111.56L130.23 115.93L135.4 118.94L140.57 122.02L145.75 124.07L150.92 128.87L156.09 130.45L161.26 134.55L166.43 136.95L171.6 142.13L176.78 145.93L181.95 150.17L187.12 151.29L192.29 155.36L197.46 156.71L202.63 159.93L207.81 163.91L212.98 169.12L218.15 171.23L223.32 172.9L228.49 171.02L233.66 174.55L238.84 179.06L244.01 180.89L249.18 180.86L254.35 184.91L259.52 189.05L264.69 188.82L269.87 195.72L275.04 198.34L280.21 202.97L285.38 206.74L290.55 206L295.72 212.87L300.9 217.4L306.07 218.83L311.24 218.69L316.41 221L321.58 224.55L326.75 230.55L331.93 227.83L337.1 233.13L342.27 230.57L347.44 234.51L352.61 239.12L357.78 236.51L362.96 240.29L368.13 242.87L373.3 245.53L378.47 248.33L383.64 246.88L388.82 248.35L393.99 255.54L399.16 254.78L404.33 254.32L409.5 258.05L414.67 259.05L419.85 266.37L425.02 272.67L430.19 267.96L435.36 275.64L440.53 279.29L445.7 280.57L450.88 282.25L456.05 285.43L461.22 287.68L466.39 284.51L471.56 282.91L476.73 283.55L481.91 284.88L487.08 284.9L492.25 288.21L497.42 297.66L502.59 292.97L507.76 294.5L512.94 297.57L518.11 299.82L523.28 301.82L528.45 304.75L533.62 310.36L538.79 309.72L543.97 307.49L549.14 312.77L554.31 315.19L559.48 312.55L564.65 314.66L569.82 308.51L575 313L580.17 308.58L585.34 309.32L590.51 311.86L595.68 311.86L600.85 314.66L606.03 317.46L611.2 320.26"/>
<path d="M99.2 89.96L104.37 94.54L109.54 99.22L114.72 102.89L119.89 107.03L125.06 111.22L130.23 114L135.4 117.95L140.57 121.09L145.75 124.8L150.92 128.13L156.09 131.69L161.26 132.54L166.43 141.22L171.6 140.72L176.78 141.76L181.95 150.19L187.12 153.16L192.29 155.07L197.46 157.56L202.63 163.73L207.81 165.69L212.98 166.76L218.15 169.25L223.32 173.55L228.49 175.07L233.66 181.25L238.84 181.9L244.01 185.44L249.18 188.61L254.35 189.7L259.52 192.33L264.69 197.15L269.87 196.23L275.04 202.82L280.21 206.87L285.38 205.13L290.55 211.14L295.72 208.14L300.9 210.52L306.07 212.55L311.24 216.68L316.41 219.38L321.58 221.6L326.75 218.34L331.93 230.35L337.1 230.41L342.27 233.82L347.44 238.16L352.61 242.01L357.78 235.65L362.96 242.22L368.13 236.06L373.3 240.26L378.47 242.36L383.64 245.03L388.82 247.12L393.99 247.5L399.16 248.12L404.33 251.51L409.5 253.14L414.67 251.07L419.85 256.33L425.02 262.19L430.19 263.78L435.36 263.37L440.53 268.21L445.7 267.77L450.88 271.16L456.05 273.38L461.22 273.94L466.39 276.47L471.56 280.72L476.73 278.85L481.91 288.03L487.08 281.27L492.25 287.66L497.42 292.39L502.59 299.48L507.76 310.01L512.94 306.56L518.11 308.5L523.28 306.26L528.45 315.14L533.62 307.2L538.79 310.07L543.97 310.89L549.14 319.96L554.31 317.29L559.48 321.81L564.65 324.66L569.82 326.67L575 324.44L580.17 329.06L585.34 335.19L590.51 341.96L595.68 332.16L600.85 316.76L606.03 318.16L611.2 319.56"/>
<path d="M99.2 89.96L104.37 94.52L109.54 99.15L114.72 103.03L119.89 107L125.06 111.13L130.23 114.56L135.4 118.03L140.57 121.83L145.75 123.09L150.92 127.6L156.09 131.05L161.26 134.87L166.43 137.7L171.6 140.82L176.78 144.35L181.95 149.7L187.12 152.83L192.29 156.82L197.46 161.77L202.63 158.99L207.81 163.21L212.98 163.07L218.15 168.37L223.32 170.64L228.49 173.29L233.66 180.23L238.84 185.68L244.01 187.77L249.18 187.68L254.35 191.02L259.52 194.16L264.69 195.48L269.87 196.87L275.04 199.06L280.21 202.15L285.38 203.42L290.55 205.66L295.72 211.21L300.9 213.47L306.07 215.19L311.24 218.62L316.41 225.11L321.58 225.54L326.75 225.2L331.93 229.08L337.1 229.15L342.27 229.73L347.44 228.87L352.61 229.41L357.78 230.36L362.96 236.75L368.13 237.09L373.3 241.25L378.47 246.09L383.64 245.84L388.82 246.92L393.99 254.2L399.16 254.14L404.33 260.96L409.5 262.26L414.67 266.2L419.85 268.07L425.02 267.05L430.19 273.4L435.36 266.32L440.53 271.52L445.7 276.46L450.88 282.78L456.05 286.82L461.22 288.69L466.39 292.8L471.56 291.53L476.73 294.82L481.91 290.73L487.08 294.09L492.25 296.29L497.42 299.34L502.59 299L507.76 294.04L512.94 291.4L518.11 297.98L523.28 298.59L528.45 296.38L533.62 306.55L538.79 309.6L543.97 310.8L549.14 316.63L554.31 309.45L559.48 311.99L564.65 316.06L569.82 313.38L575 315.07L580.17 325.56L585.34 330.99L590.51 337.76L595.68 330.06L600.85 315.36L606.03 317.46L611.2 319.56"/>
<path d="M99.2 89.96L104.37 94.57L109.54 99.09L114.72 102.89L119.89 106.66L125.06 110.34L130.23 113.95L135.4 117.95L140.57 121.78L145.75 125.25L150.92 128.13L156.09 132.21L161.26 135.23L166.43 138.43L171.6 145.22L176.78 145.82L181.95 147.7L187.12 149.88L192.29 154.53L197.46 154.62L202.63 159.61L207.81 163.97L212.98 166.93L218.15 168.78L223.32 170.84L228.49 176.92L233.66 180.24L238.84 185.61L244.01 187.33L249.18 191.11L254.35 195.17L259.52 202.72L264.69 203.53L269.87 205.32L275.04 210.48L280.21 213.3L285.38 216.72L290.55 220.09L295.72 220.44L300.9 216.65L306.07 218.51L311.24 222.34L316.41 220.13L321.58 226.11L326.75 224.67L331.93 226.28L337.1 230.39L342.27 228.91L347.44 232.79L352.61 235.91L357.78 237.8L362.96 234.37L368.13 237.2L373.3 237.56L378.47 239.7L383.64 239.2L388.82 245.82L393.99 248.16L399.16 250.36L404.33 250.22L409.5 253.19L414.67 261.76L419.85 263.32L425.02 263.47L430.19 267.88L435.36 268.46L440.53 278.81L445.7 278.15L450.88 286.38L456.05 286.04L461.22 285.03L466.39 280.78L471.56 286.44L476.73 290.15L481.91 295.93L487.08 297.07L492.25 299.22L497.42 296.02L502.59 297.53L507.76 299.05L512.94 306.78L518.11 307.55L523.28 309.37L528.45 304.18L533.62 310.4L538.79 308.51L543.97 311.77L549.14 317.54L554.31 317.2L559.48 318.14L564.65 316.8L569.82 320.89L575 325.32L580.17 330.46L585.34 335.19L590.51 314.66L595.68 316.06L600.85 316.06L606.03 318.86L611.2 320.96"/>
<path d="M99.2 89.96L104.37 94.49L109.54 99.43L114.72 103.05L119.89 107.32L125.06 111L130.23 114.67L135.4 118.38L140.57 122.45L145.75 126.14L150.92 129.05L156.09 131.34L161.26 134.69L166.43 137.85L171.6 139.59L176.78 144.88L181.95 147.81L187.12 150.84L192.29 153.94L197.46 157.57L202.63 161.53L207.81 164.33L212.98 169.36L218.15 172.33L223.32 172.58L228.49 174.2L233.66 180.83L238.84 178.1L244.01 182.95L249.18 184.73L254.35 185.77L259.52 188.44L264.69 191.44L269.87 189.32L275.04 197.83L280.21 198.67L285.38 200.89L290.55 207.99L295.72 211.29L300.9 212.96L306.07 211.32L311.24 218.52L316.41 221.24L321.58 220.83L326.75 224.99L331.93 228.85L337.1 226.46L342.27 229.36L347.44 229.64L352.61 230.4L357.78 233.78L362.96 240.32L368.13 242.19L373.3 249.41L378.47 249.66L383.64 248.4L388.82 249.59L393.99 250.46L399.16 255.77L404.33 250.44L409.5 250.74L414.67 261.61L419.85 260.99L425.02 265.46L430.19 264.65L435.36 269.02L440.53 273.05L445.7 276.49L450.88 278.74L456.05 277.89L461.22 276.19L466.39 282.64L471.56 283.26L476.73 285.13L481.91 282.47L487.08 290.2L492.25 290.48L497.42 296.9L502.59 294.57L507.76 300.2L512.94 302.5L518.11 303.09L523.28 302.83L528.45 310.1L533.62 307.13L538.79 315.33L543.97 312.42L549.14 318.96L554.31 318.53L559.48 313.93L564.65 305.45L569.82 308.9L575 309.48L580.17 314.66L585.34 316.06L590.51 317.46L595.68 316.76L600.85 318.16L606.03 318.86L611.2 319.56"/>
<path d="M99.2 89.96L104.37 94.62L109.54 99.19L114.72 102.72L119.89 106.59L125.06 111.22L130.23 114.97L135.4 118.4L140.57 121.45L145.75 126.22L150.92 129.14L156.09 131.67L161.26 134.95L166.43 137.17L171.6 143.71L176.78 142.66L181.95 144.91L187.12 151.81L192.29 154.3L197.46 155.74L202.63 158.22L207.81 163.86L212.98 166.91L218.15 167.59L223.32 171.16L228.49 175.58L233.66 182.56L238.84 179.74L244.01 186.39L249.18 186.23L254.35 190.33L259.52 194.34L264.69 197.69L269.87 198.16L275.04 198.6L280.21 203.83L285.38 202.32L290.55 200.4L295.72 206.71L300.9 212.14L306.07 212.01L311.24 215.21L316.41 214.94L321.58 218L326.75 218.37L331.93 221.79L337.1 220.81L342.27 227.3L347.44 230.63L352.61 230.8L357.78 231.92L362.96 236.52L368.13 240.5L373.3 243.05L378.47 242.64L383.64 243.17L388.82 244.15L393.99 244.58L399.16 248.12L404.33 252.8L409.5 258.79L414.67 260.19L419.85 262.99L425.02 266.62L430.19 270.02L435.36 272.88L440.53 273.83L445.7 279.71L450.88 282.82L456.05 290.37L461.22 284.61L466.39 291.17L471.56 288.8L476.73 293.05L481.91 299.36L487.08 300.51L492.25 301.21L497.42 300.54L502.59 307.35L507.76 304.65L512.94 306.03L518.11 299.71L523.28 302.68L528.45 305.25L533.62 302.07L538.79 303.68L543.97 302.89L549.14 307.18L554.31 313.07L559.48 314.66L564.65 316.51L569.82 320L575 320L580.17 329.76L585.34 323.53L590.51 313.96L595.68 315.36L600.85 316.76L606.03 318.16L611.2 320.26"/>
<path d="M99.2 89.96L104.37 94.56L109.54 99.31L114.72 103.11L119.89 107.24L125.06 110.87L130.23 114.66L135.4 117.93L140.57 119.97L145.75 124.1L150.92 126.66L156.09 130.91L161.26 135.14L166.43 137.84L171.6 140.45L176.78 144.43L181.95 146.59L187.12 149.3L192.29 153.29L197.46 158.59L202.63 161.44L207.81 166.72L212.98 166.97L218.15 171.34L223.32 173.73L228.49 179.49L233.66 182.68L238.84 182.85L244.01 186.01L249.18 190.12L254.35 190.03L259.52 192.19L264.69 193.97L269.87 197.05L275.04 200.5L280.21 198.64L285.38 201.9L290.55 207.91L295.72 209.9L300.9 210.51L306.07 210.27L311.24 214.47L316.41 217.51L321.58 220.76L326.75 222.42L331.93 223.44L337.1 229.69L342.27 233.04L347.44 232.16L352.61 228.96L357.78 232.5L362.96 234.38L368.13 240.39L373.3 243.55L378.47 250.2L383.64 251.94L388.82 251.49L393.99 257.86L399.16 256.48L404.33 259.12L409.5 259.68L414.67 262.97L419.85 260.88L425.02 261.56L430.19 262.69L435.36 265.29L440.53 271.19L445.7 276.45L450.88 279.56L456.05 283.81L461.22 280.21L466.39 292.27L471.56 290.13L476.73 284.34L481.91 291.83L487.08 295.79L492.25 296.16L497.42 294.35L502.59 295.83L507.76 293.93L512.94 296.4L518.11 301.17L523.28 296.89L528.45 305.72L533.62 307.8L538.79 307.45L543.97 308.71L549.14 311.12L554.31 313.53L559.48 318.85L564.65 324.41L569.82 323.89L575 326.28L580.17 333.96L585.34 328.43L590.51 317.46L595.68 317.46L600.85 318.16L606.03 320.26L611.2 320.26"/>
<path d="M99.2 89.96L104.37 94.67L109.54 99.31L114.72 103.21L119.89 107.11L125.06 111.55L130.23 114.87L135.4 118.72L140.57 121.41L145.75 124.08L150.92 128.08L156.09 129.97L161.26 134.21L166.43 135.03L171.6 137.7L176.78 141.2L181.95 147.25L187.12 151.57L192.29 152L197.46 155.51L202.63 159.06L207.81 165.32L212.98 170.46L218.15 171.06L223.32 176.23L228.49 178.72L233.66 180.97L238.84 182.45L244.01 187.51L249.18 188.92L254.35 189.28L259.52 189.59L264.69 193.78L269.87 195.21L275.04 205.11L280.21 203.96L285.38 207.9L290.55 211.06L295.72 213.27L300.9 217.58L306.07 217.51L311.24 214.27L316.41 218.26L321.58 223.84L326.75 227.9L331.93 225.9L337.1 236.41L342.27 231.78L347.44 238.09L352.61 242.84L357.78 241.5L362.96 243.05L368.13 251.36L373.3 245.59L378.47 251.22L383.64 247.91L388.82 252.28L393.99 258.17L399.16 251.42L404.33 250.6L409.5 248.26L414.67 252.19L419.85 258.07L425.02 262.05L430.19 266.76L435.36 270.86L440.53 277.55L445.7 279.64L450.88 289.84L456.05 286.08L461.22 286.76L466.39 281.06L471.56 286.76L476.73 292.73L481.91 293.71L487.08 301.32L492.25 303.54L497.42 309.1L502.59 301.51L507.76 305.74L512.94 312.45L518.11 312.62L523.28 310.54L528.45 313.89L533.62 317.31L538.79 322.1L543.97 321.86L549.14 323.33L554.31 322.95L559.48 326.12L564.65 329L569.82 323.78L575 320.25L580.17 322.06L585.34 328.89L590.51 321.66L595.68 327.96L600.85 335.19L606.03 316.76L611.2 320.26"/>
<path d="M99.2 89.96L104.37 94.56L109.54 99.05L114.72 102.81L119.89 106.44L125.06 110.68L130.23 114.59L135.4 118.22L140.57 121.74L145.75 124.43L150.92 127.78L156.09 129.45L161.26 134.23L166.43 136.4L171.6 141.51L176.78 142.68L181.95 148.96L187.12 151.78L192.29 155.88L197.46 157.35L202.63 158.41L207.81 166.28L212.98 167.14L218.15 173.75L223.32 177.46L228.49 175.76L233.66 177.23L238.84 181.27L244.01 182.96L249.18 186.65L254.35 188.89L259.52 189.26L264.69 194.24L269.87 191.66L275.04 202.01L280.21 201.12L285.38 203.29L290.55 211.77L295.72 213.29L300.9 211.33L306.07 217.54L311.24 217.69L316.41 218.8L321.58 223.44L326.75 226.74L331.93 231.11L337.1 228.03L342.27 231.64L347.44 231.26L352.61 235.07L357.78 238.28L362.96 233.16L368.13 237.65L373.3 237.26L378.47 241.75L383.64 245.86L388.82 250.65L393.99 251.42L399.16 254.79L404.33 254.1L409.5 258.22L414.67 262.52L419.85 266.21L425.02 265.97L430.19 272.61L435.36 277.78L440.53 274.25L445.7 276.04L450.88 274.04L456.05 282.17L461.22 284.63L466.39 290.49L471.56 289.7L476.73 294.73L481.91 294.15L487.08 293.16L492.25 290.44L497.42 291.96L502.59 299.25L507.76 295.12L512.94 296.57L518.11 297.27L523.28 301.94L528.45 302.45L533.62 307.04L538.79 310.4L543.97 310.53L549.14 313.14L554.31 311.1L559.48 318.02L564.65 316.64L569.82 313.23L575 318.6L580.17 321.86L585.34 313.96L590.51 315.36L595.68 316.06L600.85 316.76L606.03 318.86L611.2 319.56"/>
<path d="M99.2 89.96L104.37 94.62L109.54 99.28L114.72 102.75L119.89 106.48L125.06 110.86L130.23 114.7L135.4 117.73L140.57 121.62L145.75 126.12L150.92 131.56L156.09 134.27L161.26 137.73L166.43 139L171.6 143.18L176.78 144.65L181.95 152.07L187.12 153.59L192.29 157.63L197.46 162.01L202.63 164.11L207.81 164.37L212.98 173.16L218.15 174.43L223.32 178.47L228.49 178.66L233.66 182.23L238.84 180.94L244.01 180.19L249.18 180.66L254.35 184.25L259.52 186.88L264.69 191.35L269.87 196.01L275.04 197.99L280.21 198.94L285.38 202.88L290.55 202.13L295.72 208.88L300.9 212.24L306.07 212.51L311.24 216.25L316.41 217.99L321.58 215.02L326.75 219.12L331.93 219.85L337.1 221.94L342.27 223.04L347.44 228.58L352.61 227.35L357.78 231.66L362.96 234.95L368.13 237.23L373.3 243.82L378.47 244.64L383.64 248.37L388.82 251.16L393.99 259.37L399.16 261.77L404.33 261.1L409.5 262.54L414.67 267.35L419.85 266.91L425.02 275.08L430.19 274.4L435.36 277.4L440.53 282.15L445.7 285.65L450.88 283.84L456.05 288.3L461.22 292.35L466.39 291.21L471.56 289.75L476.73 294.93L481.91 293.84L487.08 299.29L492.25 300.61L497.42 300.75L502.59 302.61L507.76 301.21L512.94 310.2L518.11 303.7L523.28 309.86L528.45 310.54L533.62 309.92L538.79 312.81L543.97 316.71L549.14 323.96L554.31 321.04L559.48 322.89L564.65 318.58L569.82 326.45L575 326.63L580.17 323.96L585.34 326.33L590.51 330.06L595.68 316.76L600.85 316.76L606.03 318.86L611.2 319.56"/>
<path d="M99.2 89.96L104.37 94.52L109.54 99.34L114.72 103.35L119.89 107.07L125.06 111.14L130.23 114.18L135.4 117.15L140.57 121.16L145.75 124.64L150.92 129.52L156.09 131.31L161.26 134.15L166.43 138.79L171.6 142.57L176.78 146.33L181.95 148.93L187.12 151.42L192.29 156.54L197.46 157.84L202.63 164.82L207.81 166.01L212.98 169.9L218.15 169.28L223.32 174.18L228.49 175.21L233.66 179.53L238.84 178.62L244.01 185.85L249.18 184.88L254.35 183.69L259.52 188.52L264.69 191.3L269.87 191.63L275.04 197.11L280.21 198.03L285.38 198.94L290.55 204.48L295.72 206.64L300.9 211.11L306.07 210.42L311.24 212.83L316.41 211.36L321.58 213.34L326.75 217.29L331.93 225.25L337.1 220.68L342.27 223.5L347.44 228.67L352.61 234.51L357.78 234.48L362.96 233.66L368.13 240.47L373.3 240.02L378.47 240.42L383.64 242.27L388.82 250.01L393.99 252.83L399.16 258.12L404.33 251.24L409.5 254.46L414.67 257.72L419.85 263.23L425.02 263.63L430.19 263.81L435.36 271.39L440.53 273.5L445.7 275.21L450.88 279.98L456.05 281.81L461.22 288.42L466.39 292.57L471.56 294.16L476.73 288.54L481.91 295.38L487.08 297.25L492.25 296.28L497.42 300.39L502.59 305.19L507.76 306.37L512.94 304.2L518.11 305.78L523.28 304.39L528.45 306.44L533.62 303.42L538.79 309.32L543.97 304.46L549.14 310L554.31 314.26L559.48 314.91L564.65 318.1L569.82 324.12L575 321.55L580.17 319.06L585.34 311.86L590.51 313.96L595.68 314.66L600.85 315.36L606.03 317.46L611.2 320.26"/>
<path d="M99.2 89.96L104.37 94.61L109.54 99.23L114.72 103.28L119.89 107.13L125.06 111.78L130.23 115.02L135.4 118.29L140.57 121.53L145.75 125.71L150.92 129.96L156.09 131.3L161.26 134.12L166.43 136.37L171.6 138.24L176.78 140.59L181.95 145.18L187.12 150.6L192.29 156.45L197.46 159.68L202.63 160.81L207.81 164.46L212.98 165.49L218.15 168.88L223.32 171.88L228.49 173L233.66 176.52L238.84 180.55L244.01 183.42L249.18 186.82L254.35 191.21L259.52 192.57L264.69 194.57L269.87 198.36L275.04 199.98L280.21 200.5L285.38 209.81L290.55 210.42L295.72 214.85L300.9 220.33L306.07 219.82L311.24 220.23L316.41 224.02L321.58 225.57L326.75 227.52L331.93 230.1L337.1 229.36L342.27 232.75L347.44 234.07L352.61 233.93L357.78 234.01L362.96 238.37L368.13 241.02L373.3 250.3L378.47 244.16L383.64 243.75L388.82 250.36L393.99 256.25L399.16 257.14L404.33 256.61L409.5 261.33L414.67 254.49L419.85 259.91L425.02 259.13L430.19 262.36L435.36 272.3L440.53 270.01L445.7 272.32L450.88 275.76L456.05 276.02L461.22 275.76L466.39 275.9L471.56 284.56L476.73 280.54L481.91 277.54L487.08 284.08L492.25 287.77L497.42 290.93L502.59 297.84L507.76 296.3L512.94 300.35L518.11 300.45L523.28 299.51L528.45 306.72L533.62 306.44L538.79 306.98L543.97 314.25L549.14 316.71L554.31 317.92L559.48 321.04L564.65 319.94L569.82 321.86L575 310.56L580.17 319.76L585.34 323.53L590.51 313.96L595.68 313.26L600.85 316.06L606.03 318.16L611.2 320.26"/>
<path d="M99.2 89.96L104.37 94.59L109.54 99.06L114.72 102.87L119.89 108.06L125.06 111.93L130.23 115.5L135.4 117.74L140.57 121.85L145.75 125.13L150.92 128.1L156.09 130.49L161.26 133.92L166.43 137.69L171.6 137.88L176.78 142.9L181.95 143.62L187.12 148.74L192.29 150.85L197.46 153.72L202.63 159.43L207.81 161.05L212.98 168.06L218.15 170.24L223.32 173.76L228.49 176.59L233.66 177.92L238.84 178.94L244.01 180.72L249.18 188.27L254.35 188.31L259.52 191.94L264.69 193.05L269.87 198.15L275.04 201.27L280.21 205.54L285.38 207.39L290.55 208.93L295.72 214.64L300.9 216.01L306.07 221.97L311.24 221.38L316.41 223.35L321.58 226.67L326.75 224.93L331.93 231.83L337.1 232.91L342.27 234.32L347.44 235.17L352.61 234.64L357.78 238.66L362.96 242.57L368.13 243.92L373.3 245.09L378.47 248.41L383.64 248.81L388.82 241.77L393.99 254.95L399.16 251.99L404.33 251.15L409.5 255.94L414.67 260.44L419.85 261.02L425.02 264.03L430.19 264.55L435.36 276.8L440.53 277.24L445.7 281.08L450.88 280.14L456.05 281.48L461.22 288.12L466.39 296.12L471.56 286.16L476.73 280.92L481.91 285.69L487.08 288.26L492.25 285.06L497.42 295.51L502.59 293.51L507.76 298.33L512.94 296.93L518.11 299.78L523.28 297.84L528.45 305.59L533.62 305.62L538.79 310.51L543.97 309.56L549.14 312.85L554.31 317.93L559.48 319.89L564.65 323.29L569.82 317.43L575 322.6L580.17 329.76L585.34 333.79L590.51 341.26L595.68 348.96L600.85 316.76L606.03 318.16L611.2 320.96"/>
<path d="M99.2 89.96L104.37 94.69L109.54 99.47L114.72 103.19L119.89 107.3L125.06 110.96L130.23 114.91L135.4 119.7L140.57 122.8L145.75 126.81L150.92 129.63L156.09 133.66L161.26 138.13L166.43 141.88L171.6 145.18L176.78 149.32L181.95 150.96L187.12 155.13L192.29 157.12L197.46 157.05L202.63 163.51L207.81 167.22L212.98 171.93L218.15 169.62L223.32 172.65L228.49 175.69L233.66 174.8L238.84 176.98L244.01 185.37L249.18 183.15L254.35 187.35L259.52 193.54L264.69 192.8L269.87 202.07L275.04 204.17L280.21 207.44L285.38 208.83L290.55 206.99L295.72 211.61L300.9 213.91L306.07 215.41L311.24 215.42L316.41 217.85L321.58 216.98L326.75 221.13L331.93 226.57L337.1 228.08L342.27 230.12L347.44 233.82L352.61 234.38L357.78 232.08L362.96 239.45L368.13 239.87L373.3 237.5L378.47 245.25L383.64 247.93L388.82 253.32L393.99 249.65L399.16 254.55L404.33 256.53L409.5 260.51L414.67 259.62L419.85 264.72L425.02 271.88L430.19 270.85L435.36 274.3L440.53 273.29L445.7 275.05L450.88 278.95L456.05 280.12L461.22 284.48L466.39 282.2L471.56 284.21L476.73 286.42L481.91 292.24L487.08 295.1L492.25 299.78L497.42 300.99L502.59 296.58L507.76 303.26L512.94 302.4L518.11 307.43L523.28 304.12L528.45 308.18L533.62 306.82L538.79 309.84L543.97 307.82L549.14 308.66L554.31 311.44L559.48 309.28L564.65 314.09L569.82 315.98L575 318.25L580.17 325.56L585.34 320.73L590.51 312.56L595.68 312.56L600.85 314.66L606.03 317.46L611.2 319.56"/>
<path d="M99.2 89.96L104.37 94.67L109.54 99.24L114.72 103.07L119.89 107.04L125.06 112.53L130.23 116.18L135.4 120.34L140.57 123.83L145.75 127.47L150.92 129.58L156.09 132.54L161.26 135.7L166.43 137.73L171.6 141.8L176.78 144.3L181.95 148.87L187.12 150.27L192.29 153.53L197.46 157.83L202.63 161.07L207.81 162.29L212.98 163.86L218.15 167.49L223.32 174.56L228.49 175.87L233.66 181.45L238.84 181.44L244.01 181.91L249.18 187.12L254.35 192.6L259.52 195.98L264.69 201.86L269.87 204.27L275.04 205.04L280.21 207.58L285.38 207.77L290.55 217.22L295.72 214.93L300.9 217.02L306.07 221.28L311.24 223.07L316.41 227.73L321.58 227.03L326.75 225.64L331.93 228L337.1 229.46L342.27 230.77L347.44 235.73L352.61 238.16L357.78 241.73L362.96 240.52L368.13 243.53L373.3 241.43L378.47 243.34L383.64 245.58L388.82 242.11L393.99 253.63L399.16 256.54L404.33 255.93L409.5 262.42L414.67 261.06L419.85 266.71L425.02 267.39L430.19 265.62L435.36 266.99L440.53 272.13L445.7 273.9L450.88 275.66L456.05 278.89L461.22 284.87L466.39 282.6L471.56 288.01L476.73 290.12L481.91 285.88L487.08 290.37L492.25 293.91L497.42 292.63L502.59 296.18L507.76 300.42L512.94 302.07L518.11 307.72L523.28 307.53L528.45 310.76L533.62 307.59L538.79 307.61L543.97 313.27L549.14 311.95L554.31 314.26L559.48 314.7L564.65 317.73L569.82 316.48L575 322.47L580.17 326.96L585.34 330.99L590.51 311.86L595.68 313.96L600.85 314.66L606.03 317.46L611.2 320.96"/>
<path d="M99.2 89.96L104.37 94.59L109.54 99.19L114.72 103.19L119.89 106.81L125.06 110.99L130.23 115.14L135.4 118.18L140.57 122.64L145.75 126.99L150.92 129.72L156.09 131.53L161.26 133.37L166.43 137.7L171.6 141.19L176.78 148.35L181.95 149.64L187.12 153.48L192.29 157.33L197.46 159.32L202.63 164.26L207.81 163.03L212.98 167.16L218.15 169.38L223.32 171.6L228.49 172.46L233.66 181.43L238.84 181.75L244.01 183.09L249.18 189.26L254.35 190.75L259.52 193.48L264.69 194.99L269.87 197.97L275.04 197.17L280.21 201.82L285.38 205.03L290.55 205.7L295.72 207.51L300.9 210.38L306.07 208.46L311.24 215.56L316.41 215.77L321.58 216.81L326.75 220.77L331.93 225.85L337.1 221.96L342.27 227.36L347.44 229.46L352.61 230.78L357.78 236.53L362.96 239.25L368.13 238.63L373.3 236.04L378.47 243.09L383.64 249.09L388.82 259.61L393.99 258.85L399.16 265.06L404.33 262.83L409.5 266.38L414.67 268.55L419.85 269.58L425.02 273.74L430.19 278.86L435.36 275.13L440.53 280.16L445.7 282.1L450.88 283.98L456.05 289.51L461.22 291.54L466.39 289.24L471.56 291.64L476.73 297.71L481.91 301.75L487.08 302.19L492.25 314.25L497.42 312.22L502.59 311.95L507.76 312.28L512.94 310.4L518.11 315.59L523.28 315.83L528.45 314.26L533.62 323.97L538.79 317.15L543.97 315.52L549.14 311.21L554.31 313.73L559.48 316.49L564.65 322.52L569.82 321.52L575 317.88L580.17 321.36L585.34 328.19L590.51 336.36L595.68 311.16L600.85 313.26L606.03 316.76L611.2 319.56"/>
<path d="M99.2 89.96L104.37 94.6L109.54 99.03L114.72 103.14L119.89 107.08L125.06 111.44L130.23 114.74L135.4 118.99L140.57 120.85L145.75 124.51L150.92 128.61L156.09 133.14L161.26 133.29L166.43 137.16L171.6 139.98L176.78 145.76L181.95 144.72L187.12 149.25L192.29 154.07L197.46 155.14L202.63 157.83L207.81 160.9L212.98 163.64L218.15 166.33L223.32 173.02L228.49 178.14L233.66 179.38L238.84 186.86L244.01 185.12L249.18 184.4L254.35 187.48L259.52 192.64L264.69 192.33L269.87 200.59L275.04 197.42L280.21 197.94L285.38 202.26L290.55 205.37L295.72 206.69L300.9 208.45L306.07 213.92L311.24 213.12L316.41 221.8L321.58 223.4L326.75 220.19L331.93 225.22L337.1 225.29L342.27 230.86L347.44 232.47L352.61 233.03L357.78 233L362.96 235.52L368.13 244.57L373.3 240.69L378.47 245.25L383.64 249.56L388.82 255.17L393.99 250.61L399.16 257.4L404.33 257.95L409.5 267.1L414.67 266.24L419.85 266.37L425.02 266.83L430.19 268.44L435.36 277.86L440.53 277.54L445.7 284.9L450.88 288.04L456.05 285.77L461.22 292.15L466.39 290.25L471.56 289.49L476.73 294.01L481.91 292.1L487.08 294.34L492.25 294.75L497.42 299.03L502.59 298.63L507.76 297.83L512.94 296.35L518.11 295.98L523.28 294.11L528.45 303.75L533.62 302.78L538.79 309.3L543.97 306.39L549.14 313.61L554.31 311.26L559.48 315.65L564.65 314.77L569.82 319.49L575 321.44L580.17 328.36L585.34 322.13L590.51 325.86L595.68 314.66L600.85 315.36L606.03 318.16L611.2 320.26"/>
<path d="M99.2 89.96L104.37 94.57L109.54 99.26L114.72 103.04L119.89 107.09L125.06 110.61L130.23 114.53L135.4 118.63L140.57 120.82L145.75 125.59L150.92 128.29L156.09 130.78L161.26 135.48L166.43 138.89L171.6 139.87L176.78 142.56L181.95 147.1L187.12 149.62L192.29 154.87L197.46 158.44L202.63 161.59L207.81 167.46L212.98 169.15L218.15 171.65L223.32 176.47L228.49 175.95L233.66 178.84L238.84 178.72L244.01 183.44L249.18 188.22L254.35 190.18L259.52 190.85L264.69 192.32L269.87 193.07L275.04 197.12L280.21 197.07L285.38 203.65L290.55 201.24L295.72 206.92L300.9 206.62L306.07 209.61L311.24 214.07L316.41 216.04L321.58 222.35L326.75 220.6L331.93 219.96L337.1 216.36L342.27 227.93L347.44 232.75L352.61 234.67L357.78 234.39L362.96 240.15L368.13 241L373.3 239.78L378.47 247.42L383.64 243.82L388.82 245.02L393.99 253.52L399.16 257.52L404.33 261.77L409.5 262.4L414.67 262.43L419.85 265.18L425.02 267.12L430.19 267.69L435.36 274.41L440.53 275.42L445.7 279.83L450.88 279.5L456.05 279.13L461.22 278.33L466.39 286.78L471.56 284.02L476.73 281.72L481.91 282.17L487.08 293.67L492.25 293.73L497.42 295.89L502.59 295.07L507.76 302.71L512.94 300.67L518.11 302.73L523.28 299.65L528.45 304.86L533.62 307.67L538.79 307.71L543.97 306.91L549.14 306.3L554.31 313.56L559.48 312.72L564.65 317.15L569.82 318.75L575 322.38L580.17 324.86L585.34 330.29L590.51 324.46L595.68 313.26L600.85 314.66L606.03 317.46L611.2 320.96"/>
<path d="M99.2 89.96L104.37 94.71L109.54 99.45L114.72 102.93L119.89 107.06L125.06 111.17L130.23 114.87L135.4 118.23L140.57 121.25L145.75 123.89L150.92 127.7L156.09 130.86L161.26 134.04L166.43 137.75L171.6 140.18L176.78 143.35L181.95 146.99L187.12 151.84L192.29 156.12L197.46 159.4L202.63 165.61L207.81 168.63L212.98 174.52L218.15 174.35L223.32 173.57L228.49 174.8L233.66 178.69L238.84 182.5L244.01 183.29L249.18 185.6L254.35 187.71L259.52 190.53L264.69 195.12L269.87 194.92L275.04 195.2L280.21 199.41L285.38 201.3L290.55 204.24L295.72 209.09L300.9 212.77L306.07 210.87L311.24 220.11L316.41 217.93L321.58 219.56L326.75 224.96L331.93 224.76L337.1 226.49L342.27 230.73L347.44 236.12L352.61 236.9L357.78 239.64L362.96 237.13L368.13 239.61L373.3 245.84L378.47 245.45L383.64 244.61L388.82 246.23L393.99 246.85L399.16 243.11L404.33 255.88L409.5 255.24L414.67 258.58L419.85 264.15L425.02 265.35L430.19 267.82L435.36 272.48L440.53 266.82L445.7 274.76L450.88 275.4L456.05 279.76L461.22 275.24L466.39 281.69L471.56 281.95L476.73 281.85L481.91 282.49L487.08 286.71L492.25 293.33L497.42 295.37L502.59 297.06L507.76 297.49L512.94 309.68L518.11 306.78L523.28 303.93L528.45 310.12L533.62 310.73L538.79 308.56L543.97 308.72L549.14 311.57L554.31 310.78L559.48 314.67L564.65 319.56L569.82 323.27L575 323.18L580.17 330.46L585.34 336.59L590.51 315.36L595.68 316.76L600.85 316.76L606.03 318.16L611.2 320.96"/>
<path d="M99.2 89.96L104.37 94.58L109.54 99.19L114.72 103.04L119.89 107.25L125.06 111.02L130.23 115.3L135.4 118.35L140.57 122.36L145.75 126.01L150.92 128.84L156.09 134.52L161.26 136.28L166.43 139.03L171.6 142.35L176.78 143.53L181.95 146.4L187.12 150.49L192.29 150.99L197.46 157.94L202.63 159.35L207.81 163.08L212.98 166.75L218.15 169.6L223.32 171.26L228.49 176L233.66 180.66L238.84 180.84L244.01 186.77L249.18 186.71L254.35 187.64L259.52 191.63L264.69 193.98L269.87 199.2L275.04 200.57L280.21 196.62L285.38 199.88L290.55 201.96L295.72 207.34L300.9 209.43L306.07 211.78L311.24 211.58L316.41 211.4L321.58 216.74L326.75 216.21L331.93 219.88L337.1 232.97L342.27 231.43L347.44 229.23L352.61 234.09L357.78 238.42L362.96 236.56L368.13 237.64L373.3 243.29L378.47 240.27L383.64 242.51L388.82 248L393.99 253.23L399.16 249.76L404.33 258.94L409.5 261.76L414.67 266.71L419.85 267.81L425.02 265.44L430.19 267.22L435.36 266.98L440.53 272.88L445.7 278.84L450.88 277.24L456.05 275.72L461.22 280.53L466.39 275.49L471.56 286.94L476.73 289.64L481.91 287.39L487.08 289.8L492.25 289.43L497.42 292.8L502.59 295.16L507.76 295.44L512.94 296.89L518.11 301.39L523.28 300.53L528.45 302.25L533.62 305.05L538.79 316.28L543.97 311.2L549.14 313.24L554.31 314.73L559.48 315.3L564.65 318.66L569.82 317.62L575 321.45L580.17 329.06L585.34 334.49L590.51 327.26L595.68 314.66L600.85 315.36L606.03 318.16L611.2 319.56"/>
<path d="M99.2 89.96L104.37 94.62L109.54 99.24L114.72 102.87L119.89 106.51L125.06 111.07L130.23 114.35L135.4 118.41L140.57 121.84L145.75 126.55L150.92 129.67L156.09 131.89L161.26 134.61L166.43 138.53L171.6 142.91L176.78 146.3L181.95 146.56L187.12 153.59L192.29 157.46L197.46 159.61L202.63 163.89L207.81 167.54L212.98 168.9L218.15 170.99L223.32 169.66L228.49 175L233.66 175.67L238.84 182.61L244.01 185.72L249.18 186.63L254.35 190.32L259.52 195.07L264.69 196.67L269.87 202.74L275.04 202.84L280.21 209.48L285.38 207.75L290.55 209.48L295.72 210.18L300.9 210.53L306.07 219.44L311.24 215.18L316.41 223.73L321.58 226.73L326.75 230.41L331.93 224.2L337.1 229.38L342.27 231.21L347.44 235.3L352.61 240.25L357.78 236.75L362.96 240.22L368.13 241.69L373.3 247.69L378.47 257L383.64 247.89L388.82 248.68L393.99 249.31L399.16 245.18L404.33 252.19L409.5 252.11L414.67 256.68L419.85 264.01L425.02 265.95L430.19 271.28L435.36 270.32L440.53 271.37L445.7 277.54L450.88 275.01L456.05 281.78L461.22 285.1L466.39 285.42L471.56 288.15L476.73 289.49L481.91 293.74L487.08 293.08L492.25 294.77L497.42 298.6L502.59 298.93L507.76 299.64L512.94 299.5L518.11 304.24L523.28 303.32L528.45 302.19L533.62 306.03L538.79 311.01L543.97 306.64L549.14 305.06L554.31 310.37L559.48 313.13L564.65 317.48L569.82 321.61L575 322.62L580.17 329.76L585.34 313.26L590.51 316.06L595.68 315.36L600.85 316.76L606.03 318.16L611.2 320.96"/>
<path d="M99.2 89.96L104.37 94.69L109.54 99.31L114.72 103.18L119.89 107.27L125.06 111.35L130.23 115.76L135.4 120.5L140.57 123.07L145.75 127.02L150.92 131.27L156.09 133.61L161.26 138.38L166.43 139.11L171.6 143.28L176.78 145.84L181.95 149.75L187.12 153.73L192.29 154.92L197.46 155.82L202.63 159.56L207.81 160.28L212.98 163.7L218.15 168.99L223.32 170.26L228.49 174.59L233.66 177.43L238.84 181.21L244.01 181.56L249.18 183.71L254.35 186.72L259.52 185.43L264.69 192.8L269.87 196.84L275.04 199.2L280.21 203.09L285.38 205.24L290.55 207.45L295.72 207.78L300.9 210.05L306.07 215.3L311.24 215.43L316.41 219.41L321.58 218.04L326.75 217.66L331.93 222.17L337.1 226.7L342.27 230.26L347.44 230.27L352.61 236.86L357.78 238.57L362.96 240.45L368.13 248.3L373.3 244.62L378.47 247.21L383.64 251.11L388.82 258.04L393.99 253.55L399.16 257.73L404.33 255.84L409.5 256.71L414.67 260.34L419.85 260.06L425.02 262.49L430.19 269.25L435.36 273.34L440.53 271.33L445.7 279.67L450.88 277.36L456.05 279.53L461.22 286.1L466.39 290.74L471.56 290.18L476.73 296.47L481.91 296.25L487.08 295.95L492.25 296.45L497.42 294.63L502.59 292.24L507.76 294.24L512.94 297.85L518.11 292.55L523.28 303.3L528.45 300.42L533.62 299L538.79 304.83L543.97 303.7L549.14 305.3L554.31 309.01L559.48 310.77L564.65 318.9L569.82 320.95L575 324.06L580.17 331.16L585.34 336.59L590.51 343.36L595.68 334.96L600.85 318.16L606.03 319.56L611.2 320.26"/>
<path d="M99.2 89.96L104.37 94.68L109.54 99.09L114.72 103.05L119.89 108.07L125.06 112.28L130.23 115.34L135.4 118.67L140.57 123.19L145.75 125.99L150.92 130.07L156.09 131.61L161.26 136.4L166.43 140.8L171.6 143.06L176.78 147.62L181.95 148.84L187.12 152.68L192.29 153.37L197.46 157.19L202.63 157.1L207.81 163.62L212.98 164.85L218.15 171.57L223.32 170.67L228.49 174.72L233.66 175.76L238.84 178.61L244.01 183.79L249.18 185.26L254.35 187.86L259.52 193.39L264.69 194.55L269.87 199.74L275.04 203.11L280.21 202.89L285.38 203.65L290.55 209.91L295.72 210.86L300.9 211.14L306.07 213.9L311.24 215.5L316.41 217.92L321.58 217.67L326.75 224.05L331.93 223.92L337.1 224.2L342.27 227.22L347.44 233.25L352.61 235.83L357.78 235.93L362.96 241.95L368.13 240.69L373.3 242.51L378.47 245.64L383.64 245.91L388.82 250.39L393.99 248.98L399.16 256.18L404.33 247.37L409.5 252.35L414.67 257.27L419.85 262.37L425.02 263.22L430.19 263.85L435.36 269.75L440.53 273.41L445.7 281.76L450.88 279.44L456.05 283.29L461.22 287.05L466.39 285.03L471.56 281.7L476.73 281.62L481.91 290.34L487.08 281.3L492.25 282.23L497.42 288.02L502.59 292.79L507.76 294.24L512.94 293.16L518.11 299.39L523.28 301.13L528.45 299.78L533.62 308.69L538.79 307.45L543.97 309.6L549.14 314.64L554.31 314.95L559.48 318.13L564.65 323.88L569.82 328.69L575 334.49L580.17 343.96L585.34 348.96L590.51 355.96L595.68 352.46L600.85 340.09L606.03 319.56L611.2 320.96"/>
<path d="M99.2 89.96L104.37 94.51L109.54 99.19L114.72 103.06L119.89 107.28L125.06 111.24L130.23 114.47L135.4 118.14L140.57 120.89L145.75 123.19L150.92 127.42L156.09 129.64L161.26 133.76L166.43 137.85L171.6 140.85L176.78 145.22L181.95 151.49L187.12 152.22L192.29 156.02L197.46 156.95L202.63 161.14L207.81 164.49L212.98 167.22L218.15 174.84L223.32 171.71L228.49 177.14L233.66 179.1L238.84 184.84L244.01 185.81L249.18 183.46L254.35 189.58L259.52 189.39L264.69 193.09L269.87 199.41L275.04 197.82L280.21 200.96L285.38 203.15L290.55 207.21L295.72 202.08L300.9 211.56L306.07 215.8L311.24 214.69L316.41 217.11L321.58 222.72L326.75 227.28L331.93 232.07L337.1 230.5L342.27 236.1L347.44 240.62L352.61 241.9L357.78 245.02L362.96 244.26L368.13 247.55L373.3 251.26L378.47 249.53L383.64 248.85L388.82 247.23L393.99 253.43L399.16 252.52L404.33 252.94L409.5 259.73L414.67 258.44L419.85 262.49L425.02 266.59L430.19 263.64L435.36 265.34L440.53 268.9L445.7 275.77L450.88 273.49L456.05 274.27L461.22 285.66L466.39 284.21L471.56 285.05L476.73 290.79L481.91 284.49L487.08 289.17L492.25 288.99L497.42 287.48L502.59 295.32L507.76 297.72L512.94 298.89L518.11 302.18L523.28 299.08L528.45 304.32L533.62 302.31L538.79 300.68L543.97 303.93L549.14 307.58L554.31 315.41L559.48 312.12L564.65 312.49L569.82 310.43L575 309.41L580.17 316.26L585.34 310.46L590.51 311.16L595.68 313.26L600.85 314.66L606.03 316.76L611.2 320.26"/>
<path d="M99.2 89.96L104.37 94.53L109.54 99.4L114.72 103.15L119.89 107.1L125.06 111.72L130.23 115.21L135.4 119.2L140.57 122.81L145.75 126.85L150.92 129.04L156.09 131.92L161.26 135.89L166.43 139.28L171.6 138.69L176.78 142.92L181.95 150.57L187.12 153.71L192.29 154.78L197.46 160.48L202.63 163.86L207.81 166.8L212.98 169.57L218.15 176.05L223.32 178.8L228.49 180.4L233.66 178.34L238.84 180.62L244.01 183.92L249.18 185.91L254.35 192.43L259.52 199.01L264.69 202.12L269.87 206.55L275.04 209.18L280.21 213.3L285.38 212.9L290.55 213.34L295.72 213.51L300.9 212.78L306.07 213.61L311.24 216.35L316.41 219.98L321.58 222.1L326.75 225.38L331.93 226.83L337.1 234.25L342.27 232.27L347.44 237.67L352.61 241.42L357.78 240.92L362.96 241.39L368.13 243.59L373.3 247.38L378.47 252.53L383.64 251.34L388.82 251.33L393.99 249.58L399.16 259.51L404.33 264.7L409.5 260.39L414.67 260.55L419.85 263.77L425.02 267.16L430.19 266.24L435.36 274.33L440.53 278.3L445.7 281.69L450.88 280.5L456.05 278.95L461.22 282.63L466.39 280.43L471.56 286.39L476.73 284.23L481.91 287.06L487.08 291.63L492.25 293.03L497.42 297.71L502.59 300.35L507.76 296.42L512.94 296.11L518.11 295.67L523.28 301.43L528.45 304.46L533.62 310.68L538.79 307.11L543.97 309.55L549.14 314.81L554.31 315.13L559.48 318.89L564.65 323.29L569.82 321.61L575 325.83L580.17 331.36L585.34 328.19L590.51 335.66L595.68 344.76L600.85 335.89L606.03 316.76L611.2 319.56"/>
<path d="M99.2 89.96L104.37 94.66L109.54 99.31L114.72 103.35L119.89 106.93L125.06 110.82L130.23 114.7L135.4 117.57L140.57 120.97L145.75 124.45L150.92 127.21L156.09 131.7L161.26 134.18L166.43 139.45L171.6 141.64L176.78 142.14L181.95 145.75L187.12 147.36L192.29 152.69L197.46 157.5L202.63 156.16L207.81 161.56L212.98 161.75L218.15 169.03L223.32 172.65L228.49 173.22L233.66 176.07L238.84 177.8L244.01 182.35L249.18 183.87L254.35 189.63L259.52 191.29L264.69 194.88L269.87 197.54L275.04 198.47L280.21 203.13L285.38 204.14L290.55 207.22L295.72 213.05L300.9 215.87L306.07 217.55L311.24 217.37L316.41 216.81L321.58 221.58L326.75 220.71L331.93 225.02L337.1 226.97L342.27 231.72L347.44 232.5L352.61 236.07L357.78 240.28L362.96 245.11L368.13 244.25L373.3 245.79L378.47 247.54L383.64 257.64L388.82 254.89L393.99 255.06L399.16 258.01L404.33 254.31L409.5 261.25L414.67 261.79L419.85 269.22L425.02 270.11L430.19 272.24L435.36 275.07L440.53 278.91L445.7 273.26L450.88 280.32L456.05 284.67L461.22 283.45L466.39 286.92L471.56 284.98L476.73 287.76L481.91 297.17L487.08 294.84L492.25 292.03L497.42 292.99L502.59 298.12L507.76 309.1L512.94 302.69L518.11 298.75L523.28 309.65L528.45 305.45L533.62 304.42L538.79 302.93L543.97 304.18L549.14 313.37L554.31 312.67L559.48 311.07L564.65 316.77L569.82 317.17L575 314.4L580.17 323.46L585.34 328.89L590.51 336.36L595.68 327.96L600.85 313.96L606.03 316.76L611.2 320.26"/>
<path d="M99.2 89.96L104.37 94.61L109.54 99.34L114.72 103L119.89 106.71L125.06 110.53L130.23 114.39L135.4 118.74L140.57 121.79L145.75 126.8L150.92 130.33L156.09 134.05L161.26 138.24L166.43 140.37L171.6 143.77L176.78 148.38L181.95 149L187.12 149.1L192.29 152.86L197.46 157.36L202.63 160.04L207.81 164.73L212.98 171.19L218.15 172.8L223.32 176.99L228.49 181.05L233.66 185.23L238.84 188.82L244.01 191.8L249.18 194.4L254.35 198.49L259.52 199.47L264.69 202.05L269.87 204.79L275.04 205.61L280.21 204.97L285.38 204.56L290.55 204.47L295.72 206.83L300.9 211.75L306.07 210.73L311.24 213.63L316.41 220.64L321.58 221.63L326.75 223.56L331.93 229.18L337.1 235.02L342.27 233.71L347.44 240.19L352.61 233.67L357.78 239.35L362.96 241.31L368.13 238.22L373.3 239.09L378.47 241.72L383.64 239.33L388.82 248.38L393.99 247.36L399.16 251.4L404.33 260.61L409.5 254.31L414.67 259.2L419.85 262L425.02 264.32L430.19 266.24L435.36 272.27L440.53 275.03L445.7 276.89L450.88 276.96L456.05 273.55L461.22 282.53L466.39 284.32L471.56 286.45L476.73 287.31L481.91 289.53L487.08 292.27L492.25 297.92L497.42 298.7L502.59 299.95L507.76 296.37L512.94 298.73L518.11 300.89L523.28 307.78L528.45 296.64L533.62 300.94L538.79 304.55L543.97 308.79L549.14 313.89L554.31 319.53L559.48 318.22L564.65 323.3L569.82 322.4L575 326.4L580.17 331.86L585.34 335.19L590.51 315.36L595.68 317.46L600.85 317.46L606.03 318.86L611.2 319.56"/>
<path d="M99.2 89.96L104.37 94.72L109.54 99.24L114.72 103.27L119.89 106.85L125.06 110.67L130.23 114.19L135.4 119L140.57 124.11L145.75 127.17L150.92 131.61L156.09 135.09L161.26 138.47L166.43 141.66L171.6 142.66L176.78 146.16L181.95 148.71L187.12 149.18L192.29 151.62L197.46 155.01L202.63 157.2L207.81 162.05L212.98 164.62L218.15 167.64L223.32 168.6L228.49 176.04L233.66 180.32L238.84 183.28L244.01 185.82L249.18 189.38L254.35 193.26L259.52 197.41L264.69 195.78L269.87 202.16L275.04 201.96L280.21 205.15L285.38 206.5L290.55 206.13L295.72 210.78L300.9 216.76L306.07 219.5L311.24 221.94L316.41 222.31L321.58 227.22L326.75 222.5L331.93 224.69L337.1 224.11L342.27 227.58L347.44 229.65L352.61 232.76L357.78 233.25L362.96 239.01L368.13 237.46L373.3 237.36L378.47 243.48L383.64 247.18L388.82 253.08L393.99 249.8L399.16 257.55L404.33 253.96L409.5 258.44L414.67 263.79L419.85 262.46L425.02 270.17L430.19 271.1L435.36 272.88L440.53 276.7L445.7 281.71L450.88 284.45L456.05 292.4L461.22 296.41L466.39 299.44L471.56 299.65L476.73 297.83L481.91 298.51L487.08 298.52L492.25 297.91L497.42 308.87L502.59 307.01L507.76 316.9L512.94 315.05L518.11 314.23L523.28 323.31L528.45 326.56L533.62 323.78L538.79 326.57L543.97 329.69L549.14 333.74L554.31 330.81L559.48 338.27L564.65 346.56L569.82 345.13L575 336.81L580.17 346.96L585.34 344.06L590.51 353.16L595.68 365.06L600.85 340.09L606.03 318.86L611.2 320.26"/>
<path d="M99.2 89.96L104.37 94.66L109.54 99.33L114.72 102.91L119.89 107.18L125.06 110.79L130.23 113.91L135.4 117.79L140.57 121.84L145.75 124.67L150.92 128.06L156.09 131.23L161.26 134.32L166.43 138.39L171.6 141.1L176.78 143.54L181.95 149.03L187.12 149.02L192.29 150.42L197.46 157.35L202.63 161.27L207.81 164.32L212.98 168.52L218.15 168.57L223.32 171.49L228.49 173.31L233.66 177.07L238.84 179.71L244.01 181.78L249.18 187.45L254.35 189.78L259.52 191.34L264.69 195.64L269.87 199.66L275.04 202.14L280.21 202.76L285.38 203.34L290.55 204.26L295.72 206.22L300.9 209.38L306.07 214.58L311.24 217.45L316.41 221.38L321.58 225.72L326.75 224.17L331.93 230.26L337.1 231.95L342.27 237.77L347.44 238.8L352.61 240.17L357.78 247.96L362.96 247.28L368.13 249.99L373.3 252.31L378.47 254.15L383.64 256.72L388.82 261.11L393.99 262.12L399.16 264.26L404.33 267.63L409.5 271.53L414.67 265.57L419.85 275.79L425.02 271.87L430.19 269.59L435.36 275.37L440.53 272.39L445.7 276.74L450.88 284.2L456.05 284.36L461.22 289.19L466.39 293.15L471.56 291.02L476.73 293.26L481.91 301.02L487.08 304.02L492.25 294.97L497.42 306.31L502.59 306.8L507.76 311.25L512.94 310.7L518.11 312.16L523.28 313.56L528.45 315.55L533.62 315.03L538.79 312.17L543.97 313.82L549.14 311.88L554.31 317.32L559.48 319.99L564.65 322.57L569.82 320.4L575 323.4L580.17 328.36L585.34 333.09L590.51 327.26L595.68 331.46L600.85 338.69L606.03 317.46L611.2 320.96"/>
<path d="M99.2 89.96L104.37 94.62L109.54 99.27L114.72 102.84L119.89 106.97L125.06 111.72L130.23 116.07L135.4 119.52L140.57 123.12L145.75 126.84L150.92 129.18L156.09 131.11L161.26 135.62L166.43 141.02L171.6 143.94L176.78 147.79L181.95 148.24L187.12 155.18L192.29 157.47L197.46 159.44L202.63 162.39L207.81 163.61L212.98 167.44L218.15 167.03L223.32 174.19L228.49 175.15L233.66 175.4L238.84 181.94L244.01 184.12L249.18 189.2L254.35 190.24L259.52 193.56L264.69 196.29L269.87 200.19L275.04 205.71L280.21 207.52L285.38 216.84L290.55 215.35L295.72 219.43L300.9 220.77L306.07 224.89L311.24 220.55L316.41 223.33L321.58 223.21L326.75 224.98L331.93 229.17L337.1 226.93L342.27 232.7L347.44 235.86L352.61 237.23L357.78 240.81L362.96 242.49L368.13 246.95L373.3 243L378.47 250.27L383.64 257.42L388.82 257.99L393.99 260.89L399.16 261.96L404.33 265.91L409.5 266.63L414.67 261.88L419.85 267.13L425.02 269.27L430.19 272.28L435.36 272.92L440.53 273.57L445.7 280.12L450.88 281.53L456.05 289.14L461.22 283.38L466.39 281.86L471.56 281.2L476.73 288.67L481.91 293.48L487.08 284.76L492.25 290.56L497.42 297.22L502.59 298.37L507.76 295.11L512.94 295.3L518.11 299.87L523.28 300.75L528.45 294.13L533.62 303.57L538.79 302.77L543.97 305.98L549.14 301.49L554.31 305.97L559.48 307.7L564.65 313.32L569.82 317.15L575 317.32L580.17 322.76L585.34 318.63L590.51 309.76L595.68 311.86L600.85 314.66L606.03 317.46L611.2 319.56"/>
<path d="M99.2 89.96L104.37 94.59L109.54 99.28L114.72 103.29L119.89 107.23L125.06 111.07L130.23 114.58L135.4 117.61L140.57 121.3L145.75 125.11L150.92 129.68L156.09 133.59L161.26 136.29L166.43 139.31L171.6 140.95L176.78 147.39L181.95 146.43L187.12 153.2L192.29 153.6L197.46 157.34L202.63 157.51L207.81 163.75L212.98 169.47L218.15 171.94L223.32 174.71L228.49 178.28L233.66 180.32L238.84 181.77L244.01 185.65L249.18 189.13L254.35 195.1L259.52 195.66L264.69 198.34L269.87 195.63L275.04 201.48L280.21 204.39L285.38 206.79L290.55 213.03L295.72 214.2L300.9 215.69L306.07 218.74L311.24 214.6L316.41 213.59L321.58 216.5L326.75 221.28L331.93 222.33L337.1 224.62L342.27 230.42L347.44 235.73L352.61 236.98L357.78 246.19L362.96 247.83L368.13 246.47L373.3 246.43L378.47 248.68L383.64 251.96L388.82 249.24L393.99 254.77L399.16 256.7L404.33 258.23L409.5 260.2L414.67 260.55L419.85 263.91L425.02 267.3L430.19 277.96L435.36 275.52L440.53 273.49L445.7 276.48L450.88 284.01L456.05 276.08L461.22 279.51L466.39 283.65L471.56 285.87L476.73 289.28L481.91 294.19L487.08 294L492.25 297.49L497.42 300.88L502.59 295.89L507.76 297.13L512.94 299.98L518.11 299.26L523.28 307.14L528.45 298.57L533.62 302.32L538.79 306.59L543.97 307.53L549.14 308.3L554.31 312.36L559.48 317.18L564.65 318.59L569.82 315.91L575 324.79L580.17 326.96L585.34 331.69L590.51 338.46L595.68 347.56L600.85 337.99L606.03 316.76L611.2 320.26"/>
<path d="M99.2 89.96L104.37 94.51L109.54 99.38L114.72 102.94L119.89 107.16L125.06 110.57L130.23 114.04L135.4 117.22L140.57 121.02L145.75 125.76L150.92 130.6L156.09 132.13L161.26 137.14L166.43 138.12L171.6 142.03L176.78 145.68L181.95 148.33L187.12 149.5L192.29 153.41L197.46 156.29L202.63 158.33L207.81 163.79L212.98 163.33L218.15 169.86L223.32 172.58L228.49 176.63L233.66 179.51L238.84 181.26L244.01 182.93L249.18 185.57L254.35 186.15L259.52 189.66L264.69 192.32L269.87 196.4L275.04 200.11L280.21 204.95L285.38 203.95L290.55 206.31L295.72 208.38L300.9 209.69L306.07 210.33L311.24 213.18L316.41 214.95L321.58 220.12L326.75 225.6L331.93 223.68L337.1 224.66L342.27 225.26L347.44 229.8L352.61 231.51L357.78 234.21L362.96 235.15L368.13 237.56L373.3 237.95L378.47 242.18L383.64 244.32L388.82 249.64L393.99 249.47L399.16 253.15L404.33 252.37L409.5 263.83L414.67 259.37L419.85 261.1L425.02 262.24L430.19 269.62L435.36 267.29L440.53 268.53L445.7 275.67L450.88 281.73L456.05 280.82L461.22 286.52L466.39 286.88L471.56 294.98L476.73 285.98L481.91 288.96L487.08 291.14L492.25 291.77L497.42 296.89L502.59 292.58L507.76 292.52L512.94 300.2L518.11 300.05L523.28 303.68L528.45 303.6L533.62 301.59L538.79 314.27L543.97 311.82L549.14 316.07L554.31 322.29L559.48 319.27L564.65 322.57L569.82 322.63L575 326.52L580.17 333.96L585.34 338.69L590.51 316.06L595.68 316.76L600.85 318.16L606.03 319.56L611.2 320.26"/>
<path d="M99.2 89.96L104.37 94.61L109.54 99.31L114.72 102.92L119.89 107.92L125.06 111.85L130.23 115.28L135.4 118.64L140.57 123.11L145.75 125.71L150.92 129.73L156.09 132.38L161.26 134.7L166.43 136.98L171.6 140.72L176.78 145.77L181.95 149.06L187.12 150.66L192.29 153.87L197.46 156.97L202.63 156.88L207.81 160.05L212.98 162.56L218.15 164.74L223.32 168.07L228.49 170.43L233.66 172.22L238.84 174.19L244.01 180.37L249.18 185.06L254.35 186.47L259.52 187.7L264.69 195.12L269.87 197.62L275.04 199.01L280.21 201.86L285.38 207.53L290.55 205.06L295.72 207.71L300.9 214.51L306.07 212.23L311.24 217.08L316.41 220.8L321.58 213.02L326.75 224.82L331.93 224.7L337.1 227.36L342.27 225.94L347.44 234.52L352.61 234.85L357.78 231.05L362.96 233.18L368.13 236.52L373.3 234.8L378.47 245.02L383.64 244.85L388.82 251.79L393.99 255.79L399.16 259.95L404.33 262.96L409.5 264.52L414.67 268.42L419.85 270.27L425.02 270.96L430.19 276.9L435.36 281.02L440.53 283.14L445.7 284.57L450.88 284.64L456.05 281.4L461.22 285.95L466.39 290.14L471.56 289.28L476.73 293.71L481.91 300.61L487.08 297.11L492.25 299.16L497.42 297.92L502.59 301.98L507.76 298.15L512.94 305.01L518.11 303.1L523.28 305.54L528.45 309.97L533.62 313.05L538.79 311.51L543.97 313.89L549.14 314.51L554.31 310.53L559.48 314.09L564.65 318.35L569.82 319.38L575 322.23L580.17 329.06L585.34 322.83L590.51 327.26L595.68 314.66L600.85 316.06L606.03 318.86L611.2 319.56"/>
<path d="M99.2 89.96L104.37 94.6L109.54 99.28L114.72 103.22L119.89 106.71L125.06 110.72L130.23 114.55L135.4 118.3L140.57 123.11L145.75 125.42L150.92 129.1L156.09 132.52L161.26 136.48L166.43 139.37L171.6 143.12L176.78 145.64L181.95 149.92L187.12 151.7L192.29 151.86L197.46 156.95L202.63 161.04L207.81 164.11L212.98 167.58L218.15 173.01L223.32 174.45L228.49 176.24L233.66 179.08L238.84 181.78L244.01 181.99L249.18 184.66L254.35 187.82L259.52 183.92L264.69 189.49L269.87 193.08L275.04 193.56L280.21 199.6L285.38 200.21L290.55 208.77L295.72 212.18L300.9 211.26L306.07 213.89L311.24 212.18L316.41 218.18L321.58 218.29L326.75 220.03L331.93 223.56L337.1 227.4L342.27 230.21L347.44 228.81L352.61 239.99L357.78 238.71L362.96 237.84L368.13 241.82L373.3 244.11L378.47 245.78L383.64 247.57L388.82 252.19L393.99 249.75L399.16 255.06L404.33 254.02L409.5 259.45L414.67 254.5L419.85 260.23L425.02 265.57L430.19 266.17L435.36 272.72L440.53 267.49L445.7 276.62L450.88 282.9L456.05 283.43L461.22 277.54L466.39 284.84L471.56 284.18L476.73 291.78L481.91 290.86L487.08 289.51L492.25 291.42L497.42 293.46L502.59 296.36L507.76 301.11L512.94 298.8L518.11 306.63L523.28 301.65L528.45 303.26L533.62 308.42L538.79 311.53L543.97 306.13L549.14 311.84L554.31 313.01L559.48 313.58L564.65 318.75L569.82 319.51L575 323.95L580.17 329.06L585.34 333.79L590.51 340.56L595.68 347.56L600.85 338.69L606.03 318.86L611.2 319.56"/>
<path d="M99.2 89.96L104.37 94.7L109.54 99.02L114.72 103.16L119.89 106.62L125.06 110.84L130.23 115.58L135.4 118.17L140.57 121.73L145.75 124.31L150.92 127.37L156.09 131.23L161.26 133.39L166.43 137.44L171.6 140.7L176.78 143.63L181.95 146.56L187.12 151.25L192.29 152.28L197.46 158.44L202.63 163.05L207.81 162.07L212.98 169.32L218.15 171.52L223.32 177.22L228.49 183.07L233.66 180.64L238.84 184.66L244.01 186L249.18 186.03L254.35 193.97L259.52 197.28L264.69 200.27L269.87 206.57L275.04 209.25L280.21 211.69L285.38 217.54L290.55 219.87L295.72 222.74L300.9 224.46L306.07 227.37L311.24 228.03L316.41 229.82L321.58 230.55L326.75 233.52L331.93 233.92L337.1 236.29L342.27 233.7L347.44 225.61L352.61 225.43L357.78 232.23L362.96 236.03L368.13 233.17L373.3 241.65L378.47 242L383.64 238.38L388.82 244.33L393.99 253.41L399.16 254.26L404.33 252.46L409.5 256.25L414.67 260.97L419.85 262.77L425.02 269.26L430.19 277.52L435.36 271.67L440.53 278.59L445.7 282.03L450.88 285.68L456.05 283.2L461.22 291.09L466.39 286.16L471.56 286.63L476.73 285.25L481.91 292.89L487.08 298.39L492.25 305.37L497.42 301.96L502.59 297.39L507.76 291.05L512.94 304.9L518.11 304.42L523.28 301.72L528.45 302.06L533.62 304.51L538.79 305.17L543.97 311.7L549.14 309.08L554.31 306.25L559.48 307.35L564.65 316.16L569.82 315.46L575 316.35L580.17 312.76L585.34 309.02L590.51 309.76L595.68 311.16L600.85 313.26L606.03 316.76L611.2 320.26"/>
<path d="M99.2 89.96L104.37 94.58L109.54 99.13L114.72 103.04L119.89 107.14L125.06 111.15L130.23 115.08L135.4 119.1L140.57 121.86L145.75 125.29L150.92 126.9L156.09 131.48L161.26 133.71L166.43 137.28L171.6 138.72L176.78 145.71L181.95 149.07L187.12 150.32L192.29 154.32L197.46 157.59L202.63 159.33L207.81 163.54L212.98 166.65L218.15 170.97L223.32 177.12L228.49 181.57L233.66 182.71L238.84 181.46L244.01 184.98L249.18 184.82L254.35 187.64L259.52 191.63L264.69 195.42L269.87 197.61L275.04 202.9L280.21 208.86L285.38 212.61L290.55 216.29L295.72 218.3L300.9 220.04L306.07 221.22L311.24 220.3L316.41 219.09L321.58 219.1L326.75 223.38L331.93 222.76L337.1 222.09L342.27 227.67L347.44 230.38L352.61 230.93L357.78 239.26L362.96 239.29L368.13 240.5L373.3 245.01L378.47 246.26L383.64 248L388.82 247.55L393.99 251.32L399.16 256.42L404.33 257.98L409.5 263.09L414.67 266.32L419.85 267.84L425.02 267.58L430.19 270.8L435.36 278.04L440.53 273.97L445.7 278.66L450.88 281.65L456.05 283.43L461.22 284.8L466.39 286.55L471.56 296.39L476.73 294.64L481.91 295.99L487.08 297.17L492.25 294.49L497.42 300.14L502.59 301.83L507.76 299.34L512.94 302.08L518.11 311L523.28 308.02L528.45 310.63L533.62 306.81L538.79 308.43L543.97 300.89L549.14 305.8L554.31 309.57L559.48 306.94L564.65 316.43L569.82 316.63L575 321.63L580.17 326.26L585.34 331.69L590.51 339.16L595.68 347.56L600.85 315.36L606.03 318.16L611.2 320.26"/>
<path d="M99.2 89.96L104.37 94.62L109.54 99.11L114.72 103.26L119.89 107.47L125.06 112.19L130.23 115.09L135.4 119.72L140.57 122.09L145.75 124.76L150.92 128.91L156.09 131.74L161.26 137.61L166.43 139.5L171.6 143.68L176.78 145.94L181.95 148.13L187.12 152.24L192.29 153.4L197.46 157.14L202.63 161.79L207.81 165.9L212.98 169.39L218.15 171.34L223.32 170.51L228.49 175.56L233.66 178.47L238.84 180.14L244.01 179.87L249.18 182.64L254.35 187.85L259.52 194.46L264.69 195.67L269.87 195.65L275.04 200.13L280.21 201.23L285.38 205.29L290.55 210.78L295.72 210.12L300.9 214.16L306.07 217.21L311.24 221.23L316.41 219.92L321.58 225.4L326.75 226.1L331.93 230.92L337.1 237.24L342.27 234.52L347.44 238.31L352.61 241.62L357.78 242.26L362.96 248.17L368.13 249.39L373.3 249.94L378.47 248.32L383.64 254.87L388.82 255.86L393.99 250.88L399.16 256.32L404.33 261.5L409.5 260.77L414.67 262.63L419.85 266.71L425.02 272.49L430.19 277.27L435.36 275.44L440.53 278.99L445.7 281.62L450.88 292.34L456.05 289.59L461.22 295.42L466.39 291.09L471.56 288.69L476.73 290.28L481.91 290.83L487.08 297.22L492.25 297.06L497.42 304.73L502.59 303.35L507.76 308.4L512.94 310.16L518.11 310.95L523.28 311.88L528.45 316.39L533.62 313.64L538.79 314.31L543.97 327.44L549.14 327.21L554.31 331.58L559.48 332.7L564.65 340.36L569.82 331.95L575 327.75L580.17 339.06L585.34 346.16L590.51 355.26L595.68 349.66L600.85 362.03L606.03 318.16L611.2 319.56"/>
<path d="M99.2 89.96L104.37 94.67L109.54 99.14L114.72 102.76L119.89 107.12L125.06 111.35L130.23 114.02L135.4 117.84L140.57 123.35L145.75 124.91L150.92 127.67L156.09 131.08L161.26 132.78L166.43 135.91L171.6 139.48L176.78 144.4L181.95 146.75L187.12 147.87L192.29 151.09L197.46 155.79L202.63 159.01L207.81 160.68L212.98 168.41L218.15 172.86L223.32 171.44L228.49 173.32L233.66 177.4L238.84 184.3L244.01 182.31L249.18 186.21L254.35 185.67L259.52 189.38L264.69 192.44L269.87 197.91L275.04 203.09L280.21 202.74L285.38 202.65L290.55 207.61L295.72 208.76L300.9 216.86L306.07 217.76L311.24 221.55L316.41 224.54L321.58 223.42L326.75 224.82L331.93 230.41L337.1 230.88L342.27 232.27L347.44 237.97L352.61 236.43L357.78 240.3L362.96 238.84L368.13 236.54L373.3 239.89L378.47 242.58L383.64 246.66L388.82 251.53L393.99 249.5L399.16 252.48L404.33 256.93L409.5 253.27L414.67 258.79L419.85 259.01L425.02 268.62L430.19 267.04L435.36 275.17L440.53 275.19L445.7 281.83L450.88 279.66L456.05 280.06L461.22 283.71L466.39 286.58L471.56 283.67L476.73 290.9L481.91 290.1L487.08 295.82L492.25 300.19L497.42 294.6L502.59 308.79L507.76 308.37L512.94 312.08L518.11 309.38L523.28 311.32L528.45 303.46L533.62 312.19L538.79 309.16L543.97 311.02L549.14 316.84L554.31 314.89L559.48 314.99L564.65 319.48L569.82 319.91L575 322.12L580.17 321.16L585.34 313.96L590.51 316.06L595.68 316.76L600.85 318.16L606.03 319.56L611.2 320.96"/>
<path d="M99.2 89.96L104.37 94.55L109.54 99.22L114.72 103.02L119.89 107.35L125.06 111.04L130.23 115.13L135.4 118.84L140.57 121.96L145.75 126.84L150.92 129.7L156.09 132.02L161.26 136.04L166.43 139.19L171.6 143.04L176.78 145.02L181.95 145.59L187.12 152.97L192.29 153.32L197.46 155.39L202.63 156.94L207.81 161.57L212.98 170.23L218.15 168.3L223.32 175.98L228.49 177.98L233.66 182.49L238.84 184.16L244.01 185.51L249.18 185.67L254.35 185.99L259.52 193.35L264.69 193.98L269.87 196.96L275.04 197.94L280.21 201.78L285.38 203.2L290.55 205.77L295.72 208.08L300.9 208.24L306.07 210.89L311.24 216.93L316.41 212.84L321.58 218.13L326.75 219.78L331.93 223.1L337.1 223.9L342.27 230.73L347.44 225.32L352.61 230.97L357.78 236.15L362.96 237.15L368.13 237.34L373.3 241.07L378.47 248.66L383.64 248.67L388.82 246.29L393.99 255.22L399.16 254L404.33 253.16L409.5 250.5L414.67 263.25L419.85 263.36L425.02 272.66L430.19 276.28L435.36 273.41L440.53 278.29L445.7 282.13L450.88 279.64L456.05 283.1L461.22 287.4L466.39 288.73L471.56 292.13L476.73 295.84L481.91 297.04L487.08 298.9L492.25 299.36L497.42 305.86L502.59 305.89L507.76 309.46L512.94 305.78L518.11 309.83L523.28 308.92L528.45 306.95L533.62 304.73L538.79 306.6L543.97 313.58L549.14 310.03L554.31 312.4L559.48 313.54L564.65 319.2L569.82 320.83L575 320.7L580.17 329.76L585.34 333.09L590.51 327.26L595.68 315.36L600.85 316.06L606.03 317.46L611.2 319.56"/>
<path d="M99.2 89.96L104.37 94.62L109.54 99.32L114.72 102.98L119.89 106.83L125.06 110.99L130.23 115.2L135.4 118.37L140.57 122.48L145.75 125.86L150.92 129.05L156.09 132.13L161.26 134.14L166.43 138.3L171.6 142.29L176.78 146.25L181.95 147.15L187.12 153.94L192.29 155.27L197.46 159.8L202.63 165.2L207.81 167.53L212.98 169.37L218.15 171.58L223.32 173.87L228.49 179.03L233.66 180.69L238.84 179.04L244.01 181.84L249.18 183.71L254.35 186.03L259.52 186.56L264.69 192.24L269.87 191.31L275.04 197.62L280.21 197.13L285.38 201.39L290.55 208.46L295.72 208.89L300.9 212.42L306.07 213.62L311.24 216.51L316.41 220.48L321.58 222.53L326.75 221.5L331.93 223.46L337.1 227.73L342.27 231.43L347.44 225.7L352.61 229.58L357.78 232.79L362.96 242.57L368.13 245.02L373.3 246.35L378.47 251.91L383.64 250.21L388.82 255.86L393.99 257.23L399.16 259.63L404.33 261.5L409.5 262.15L414.67 266.13L419.85 269.68L425.02 271.63L430.19 271.55L435.36 272.17L440.53 273.93L445.7 283.24L450.88 287.16L456.05 286.35L461.22 284.94L466.39 290.54L471.56 291.9L476.73 295.18L481.91 293.17L487.08 293.84L492.25 298.38L497.42 294.48L502.59 292.59L507.76 293.71L512.94 294.92L518.11 297.27L523.28 301.15L528.45 302.11L533.62 302.02L538.79 307.84L543.97 307.4L549.14 311.51L554.31 311.27L559.48 315.13L564.65 317.99L569.82 318.02L575 322.72L580.17 315.56L585.34 320.03L590.51 311.86L595.68 313.26L600.85 314.66L606.03 316.76L611.2 320.96"/>
<path d="M99.2 89.96L104.37 94.61L109.54 99.26L114.72 103.14L119.89 106.88L125.06 110.33L130.23 114.7L135.4 118.97L140.57 122.34L145.75 124.1L150.92 127.23L156.09 131.66L161.26 133.89L166.43 138.89L171.6 141.85L176.78 143.59L181.95 146.7L187.12 151.4L192.29 154.71L197.46 156.94L202.63 161.92L207.81 166.26L212.98 166.64L218.15 169.49L223.32 176.16L228.49 176.96L233.66 182.68L238.84 182.52L244.01 186.72L249.18 190.39L254.35 191.33L259.52 190.17L264.69 194.86L269.87 197.45L275.04 198.23L280.21 201.71L285.38 201.43L290.55 207.1L295.72 208.8L300.9 208.87L306.07 210.98L311.24 214.12L316.41 216.08L321.58 223.69L326.75 225.46L331.93 225.3L337.1 225.12L342.27 229.1L347.44 231.04L352.61 235L357.78 231.13L362.96 232.96L368.13 231.64L373.3 239.25L378.47 235.74L383.64 245.39L388.82 246.1L393.99 251.04L399.16 254.06L404.33 256.93L409.5 259.74L414.67 264.76L419.85 270.59L425.02 271.35L430.19 275.2L435.36 277.29L440.53 275.07L445.7 277.68L450.88 284.23L456.05 286.32L461.22 289.96L466.39 285.37L471.56 292.37L476.73 288.68L481.91 286.75L487.08 287.81L492.25 295.09L497.42 296.83L502.59 296.3L507.76 298.33L512.94 298.53L518.11 301.17L523.28 299.49L528.45 297.55L533.62 306.17L538.79 304.29L543.97 308.34L549.14 310.12L554.31 309.35L559.48 311.53L564.65 317.22L569.82 321.88L575 321.54L580.17 326.96L585.34 332.39L590.51 339.16L595.68 313.26L600.85 316.06L606.03 316.76L611.2 320.96"/>
<path d="M99.2 89.96L104.37 94.57L109.54 99.21L114.72 103.2L119.89 107.19L125.06 111.07L130.23 114.53L135.4 119L140.57 122.7L145.75 125.23L150.92 130.79L156.09 132.64L161.26 137.86L166.43 137.24L171.6 140.64L176.78 145.08L181.95 147.16L187.12 150.35L192.29 153.96L197.46 155.89L202.63 160.3L207.81 165.6L212.98 167.5L218.15 169.33L223.32 171.5L228.49 176.01L233.66 179.42L238.84 179.71L244.01 180.55L249.18 179.19L254.35 181.96L259.52 189.54L264.69 191.63L269.87 195.58L275.04 197.81L280.21 197.56L285.38 203.89L290.55 208.68L295.72 207.99L300.9 207.93L306.07 211.14L311.24 214.04L316.41 213.77L321.58 216.13L326.75 218.78L331.93 221.14L337.1 225.73L342.27 226.49L347.44 234.31L352.61 232.57L357.78 233.68L362.96 240.72L368.13 237.72L373.3 246.93L378.47 242.91L383.64 246.25L388.82 251.38L393.99 252.95L399.16 252.87L404.33 252.7L409.5 257.69L414.67 259.85L419.85 266.73L425.02 266.53L430.19 269.52L435.36 275.64L440.53 272.39L445.7 278.71L450.88 282.21L456.05 281.17L461.22 286.48L466.39 288.63L471.56 292.19L476.73 290.34L481.91 292.84L487.08 296.6L492.25 296.33L497.42 299.6L502.59 304.47L507.76 304.07L512.94 305.1L518.11 307.92L523.28 309.95L528.45 311.78L533.62 304.78L538.79 304.8L543.97 310.35L549.14 310.53L554.31 309.25L559.48 312.4L564.65 315.25L569.82 319.82L575 315.88L580.17 309.06L585.34 311.86L590.51 312.56L595.68 313.96L600.85 316.06L606.03 318.16L611.2 320.26"/>
<path d="M99.2 89.96L104.37 94.5L109.54 99.33L114.72 103.11L119.89 107.38L125.06 110.65L130.23 114.87L135.4 118.51L140.57 122.87L145.75 127L150.92 131.51L156.09 133.86L161.26 135.58L166.43 140.18L171.6 143.4L176.78 146.09L181.95 147.1L187.12 152.43L192.29 155.31L197.46 157.69L202.63 161.74L207.81 165.17L212.98 165.32L218.15 173.4L223.32 173.17L228.49 179.56L233.66 180.08L238.84 183.18L244.01 182.91L249.18 187.37L254.35 187.39L259.52 189.92L264.69 194.5L269.87 195.52L275.04 198.66L280.21 199.1L285.38 204.08L290.55 204.07L295.72 206.61L300.9 211.17L306.07 211.84L311.24 219.27L316.41 217.07L321.58 221.16L326.75 217.65L331.93 224.73L337.1 226.53L342.27 226.31L347.44 235.02L352.61 233.19L357.78 237.49L362.96 239.19L368.13 241.4L373.3 247.76L378.47 246.56L383.64 253.01L388.82 259.94L393.99 254.98L399.16 258.48L404.33 253.24L409.5 262.58L414.67 263.76L419.85 262.67L425.02 267.54L430.19 269.85L435.36 273.59L440.53 272.07L445.7 270.11L450.88 277.63L456.05 277.85L461.22 277.27L466.39 286.6L471.56 282.72L476.73 283.67L481.91 286.95L487.08 290.97L492.25 291.72L497.42 291.54L502.59 292.48L507.76 292.8L512.94 291.35L518.11 295.39L523.28 301.13L528.45 305.16L533.62 303.74L538.79 309.57L543.97 308.94L549.14 311.4L554.31 313.8L559.48 313.5L564.65 315.78L569.82 322.93L575 321.01L580.17 324.86L585.34 309.28L590.51 311.16L595.68 312.56L600.85 314.66L606.03 318.16L611.2 320.26"/>
<path d="M99.2 89.96L104.37 94.65L109.54 99.11L114.72 103.02L119.89 107.26L125.06 110.93L130.23 114.99L135.4 117.97L140.57 121.91L145.75 125.71L150.92 127.33L156.09 132.96L161.26 134.05L166.43 140.33L171.6 142.27L176.78 146.47L181.95 149.5L187.12 153.4L192.29 153.54L197.46 156.55L202.63 160.82L207.81 162.75L212.98 165.67L218.15 167.85L223.32 171.52L228.49 172.26L233.66 173.94L238.84 177.64L244.01 181.84L249.18 181.59L254.35 189.24L259.52 188.91L264.69 189.9L269.87 197.59L275.04 196L280.21 201L285.38 203.02L290.55 207.77L295.72 212.02L300.9 217.68L306.07 218.56L311.24 219.09L316.41 225.01L321.58 229.19L326.75 230.4L331.93 232.46L337.1 235.54L342.27 237.3L347.44 240.5L352.61 244.4L357.78 250.11L362.96 246.33L368.13 246.62L373.3 254.53L378.47 254.87L383.64 250.56L388.82 253.85L393.99 255.87L399.16 256.8L404.33 262.82L409.5 263.8L414.67 265.67L419.85 270.03L425.02 269.17L430.19 267.08L435.36 267.61L440.53 271.66L445.7 274.95L450.88 284.56L456.05 285.57L461.22 294.66L466.39 294.26L471.56 294.39L476.73 297.02L481.91 297.99L487.08 302.02L492.25 297.92L497.42 299.93L502.59 304.56L507.76 305.12L512.94 304.97L518.11 303.04L523.28 305.23L528.45 309.2L533.62 306.28L538.79 303.03L543.97 308.04L549.14 312.14L554.31 311.78L559.48 314.96L564.65 318.86L569.82 323.63L575 324.77L580.17 329.06L585.34 333.79L590.51 313.96L595.68 314.66L600.85 316.76L606.03 318.16L611.2 320.96"/>
<path d="M99.2 89.96L104.37 94.62L109.54 99.43L114.72 103.45L119.89 106.8L125.06 111.23L130.23 114.8L135.4 118.57L140.57 121.77L145.75 126.17L150.92 129.47L156.09 133.34L161.26 135.7L166.43 139.85L171.6 142.69L176.78 143.88L181.95 149.53L187.12 149.85L192.29 155.19L197.46 157.61L202.63 159.9L207.81 161.95L212.98 165.5L218.15 168.65L223.32 171.25L228.49 177.16L233.66 178.88L238.84 179.96L244.01 183.4L249.18 188L254.35 193.35L259.52 194.43L264.69 197.11L269.87 199.68L275.04 203.43L280.21 202.98L285.38 208.94L290.55 213.86L295.72 209.92L300.9 211.22L306.07 212.85L311.24 220.11L316.41 217.81L321.58 224.76L326.75 227.07L331.93 232.83L337.1 232.77L342.27 236.04L347.44 235.5L352.61 241.59L357.78 245.67L362.96 240.77L368.13 244.81L373.3 244.68L378.47 250.72L383.64 249.03L388.82 249.34L393.99 251.57L399.16 257.15L404.33 260.47L409.5 261.82L414.67 263.11L419.85 263.88L425.02 264.98L430.19 274.28L435.36 274.43L440.53 272.84L445.7 280.06L450.88 280.82L456.05 279.6L461.22 282.11L466.39 283.05L471.56 282.34L476.73 284.99L481.91 287.49L487.08 290.52L492.25 294.99L497.42 297.69L502.59 299.87L507.76 307.72L512.94 306.78L518.11 315.33L523.28 315.31L528.45 312.69L533.62 314.81L538.79 322.37L543.97 316.46L549.14 322.1L554.31 314.79L559.48 317.56L564.65 319.89L569.82 318.64L575 321.39L580.17 326.96L585.34 330.99L590.51 337.76L595.68 346.16L600.85 314.66L606.03 317.46L611.2 320.26"/>
<path d="M99.2 89.96L104.37 94.62L109.54 99.35L114.72 103.05L119.89 106.8L125.06 111.04L130.23 114.92L135.4 117.67L140.57 122.55L145.75 126.73L150.92 130.19L156.09 133.41L161.26 137.68L166.43 143.57L171.6 146.2L176.78 149.46L181.95 153.24L187.12 155.46L192.29 159.97L197.46 160.36L202.63 164.04L207.81 170.11L212.98 170.47L218.15 173.49L223.32 174.38L228.49 177.8L233.66 183.01L238.84 183.17L244.01 188.02L249.18 189.33L254.35 192.53L259.52 194.76L264.69 197.15L269.87 202.03L275.04 201.57L280.21 204.05L285.38 204.98L290.55 208.2L295.72 212.59L300.9 216.62L306.07 214.14L311.24 221.04L316.41 219.67L321.58 221.97L326.75 218.71L331.93 222.73L337.1 222.22L342.27 230.27L347.44 229.1L352.61 234.54L357.78 235.67L362.96 241.47L368.13 245.01L373.3 242.5L378.47 247.59L383.64 249.07L388.82 245.68L393.99 253.24L399.16 251.22L404.33 256.26L409.5 260.68L414.67 259.13L419.85 262.13L425.02 266.61L430.19 269.62L435.36 271.86L440.53 276.08L445.7 279.7L450.88 282.12L456.05 286.56L461.22 289.58L466.39 290.35L471.56 293.58L476.73 298.03L481.91 297L487.08 302.63L492.25 301.03L497.42 304.48L502.59 299.21L507.76 312.28L512.94 311.22L518.11 310.15L523.28 311.88L528.45 310.57L533.62 315.59L538.79 316.26L543.97 321.3L549.14 316.77L554.31 323.66L559.48 324.73L564.65 330.64L569.82 337.37L575 324.33L580.17 331.16L585.34 335.89L590.51 343.36L595.68 333.56L600.85 339.39L606.03 353.16L611.2 320.26"/>
<path d="M99.2 89.96L104.37 94.56L109.54 99.31L114.72 102.92L119.89 107.82L125.06 111.54L130.23 114.44L135.4 118.13L140.57 121.98L145.75 124.81L150.92 129.39L156.09 131.68L161.26 136.8L166.43 139.08L171.6 141.13L176.78 144.08L181.95 149.09L187.12 154.36L192.29 156.68L197.46 159.21L202.63 159.44L207.81 161.78L212.98 167.27L218.15 168.45L223.32 171.51L228.49 173.71L233.66 176.92L238.84 179.95L244.01 185.18L249.18 186.39L254.35 187.67L259.52 193.34L264.69 195.59L269.87 199.91L275.04 204.68L280.21 207.85L285.38 209.16L290.55 211.95L295.72 215.25L300.9 217.92L306.07 214.92L311.24 216.79L316.41 217.86L321.58 216.88L326.75 223.12L331.93 224.72L337.1 229.07L342.27 230.24L347.44 229.09L352.61 232.76L357.78 240.09L362.96 240.24L368.13 242L373.3 238.95L378.47 241.99L383.64 243.04L388.82 245.38L393.99 245.49L399.16 249.66L404.33 252.06L409.5 255.09L414.67 256.81L419.85 260.51L425.02 258.17L430.19 262.22L435.36 265.7L440.53 267.39L445.7 275.52L450.88 280.05L456.05 284.43L461.22 284.45L466.39 288.27L471.56 289.65L476.73 287.31L481.91 294.51L487.08 292.25L492.25 299.39L497.42 296.71L502.59 293.36L507.76 294.02L512.94 294.95L518.11 291.41L523.28 297.55L528.45 300.73L533.62 300.83L538.79 301.82L543.97 303.2L549.14 309.59L554.31 316.09L559.48 317.08L564.65 317.33L569.82 321L575 325.14L580.17 321.16L585.34 323.53L590.51 313.96L595.68 315.36L600.85 316.76L606.03 318.86L611.2 319.56"/>
<path d="M99.2 89.96L104.37 94.58L109.54 99.35L114.72 102.92L119.89 107.32L125.06 110.88L130.23 115.12L135.4 119.12L140.57 121.41L145.75 127.17L150.92 128.6L156.09 131.26L161.26 134.47L166.43 137.67L171.6 138.03L176.78 140.91L181.95 147.28L187.12 148.45L192.29 153.76L197.46 155.96L202.63 159.96L207.81 163.22L212.98 164.71L218.15 168.79L223.32 176.42L228.49 177.91L233.66 183.07L238.84 188L244.01 190.98L249.18 195.11L254.35 197.88L259.52 200.33L264.69 203.22L269.87 205.88L275.04 208.19L280.21 208.73L285.38 211.16L290.55 206.71L295.72 213.59L300.9 212.72L306.07 214.94L311.24 219.22L316.41 217.1L321.58 220.42L326.75 224.31L331.93 225.58L337.1 222.84L342.27 232.14L347.44 229.97L352.61 231.25L357.78 233.03L362.96 231.52L368.13 233.96L373.3 237.87L378.47 239.73L383.64 239.42L388.82 241.03L393.99 249.4L399.16 251.37L404.33 254.72L409.5 257.81L414.67 265.08L419.85 262.59L425.02 265.89L430.19 267.71L435.36 268.73L440.53 276.55L445.7 279.99L450.88 281.06L456.05 282.85L461.22 287.95L466.39 287.74L471.56 291.2L476.73 289.1L481.91 296.39L487.08 296.58L492.25 304.61L497.42 304.96L502.59 305.18L507.76 302.35L512.94 303.38L518.11 306.08L523.28 304.7L528.45 309.08L533.62 314.3L538.79 320.04L543.97 323.03L549.14 319.71L554.31 317L559.48 320.12L564.65 319.41L569.82 323.81L575 322.87L580.17 324.66L585.34 316.76L590.51 316.76L595.68 317.46L600.85 318.86L606.03 319.56L611.2 320.26"/>
<path d="M99.2 89.96L104.37 94.63L109.54 99.45L114.72 102.87L119.89 107.56L125.06 111.72L130.23 115.23L135.4 118.64L140.57 121.07L145.75 127.64L150.92 130.59L156.09 133.96L161.26 135.66L166.43 139.65L171.6 140.87L176.78 145.42L181.95 148.15L187.12 154.04L192.29 157.96L197.46 162.38L202.63 162.66L207.81 163.88L212.98 166.29L218.15 169.02L223.32 169.07L228.49 171.5L233.66 176.76L238.84 178.02L244.01 180.26L249.18 185.58L254.35 187.58L259.52 190.21L264.69 191.9L269.87 196.22L275.04 198.61L280.21 200.73L285.38 204.06L290.55 206.77L295.72 208.26L300.9 207.1L306.07 211.82L311.24 215.49L316.41 217.05L321.58 221.2L326.75 227.45L331.93 226.03L337.1 227.85L342.27 233.32L347.44 237.53L352.61 234.5L357.78 237.4L362.96 239.92L368.13 246.7L373.3 245.35L378.47 249.65L383.64 253.45L388.82 248.87L393.99 251.91L399.16 260.18L404.33 255.5L409.5 265.2L414.67 265.15L419.85 266L425.02 265.91L430.19 270.47L435.36 273.76L440.53 276.39L445.7 278.99L450.88 279.4L456.05 277.79L461.22 285.84L466.39 296.76L471.56 294.27L476.73 297.21L481.91 293.65L487.08 293.58L492.25 298.4L497.42 300.89L502.59 297.49L507.76 301.19L512.94 310.06L518.11 303.88L523.28 308.24L528.45 312.16L533.62 310.76L538.79 316.67L543.97 318.13L549.14 319.31L554.31 319.79L559.48 323.23L564.65 331.43L569.82 327.4L575 319.14L580.17 327.66L585.34 332.39L590.51 339.86L595.68 330.76L600.85 316.76L606.03 318.16L611.2 320.26"/>
<path d="M99.2 89.96L104.37 94.61L109.54 98.94L114.72 102.84L119.89 106.87L125.06 110.75L130.23 114.99L135.4 119.31L140.57 122.64L145.75 124.05L150.92 128L156.09 131.19L161.26 134.77L166.43 136.69L171.6 140.7L176.78 146.25L181.95 149.58L187.12 147.92L192.29 152.42L197.46 154.72L202.63 159.2L207.81 161.04L212.98 165.56L218.15 166.28L223.32 167.52L228.49 171.27L233.66 176.56L238.84 178.28L244.01 185.89L249.18 189.28L254.35 191.88L259.52 193.36L264.69 196.99L269.87 200.67L275.04 199.34L280.21 205.29L285.38 208.99L290.55 217.5L295.72 214.42L300.9 217.41L306.07 220.32L311.24 227.61L316.41 226.97L321.58 225.01L326.75 226.6L331.93 228.08L337.1 231.62L342.27 231.9L347.44 235.99L352.61 237.49L357.78 239.63L362.96 240.72L368.13 245.38L373.3 245.17L378.47 247.5L383.64 252.33L388.82 244.46L393.99 252.63L399.16 252.16L404.33 252.68L409.5 255.81L414.67 265.07L419.85 259.05L425.02 261.57L430.19 263.66L435.36 277.37L440.53 280.18L445.7 278.67L450.88 281.9L456.05 277.39L461.22 284.03L466.39 278.18L471.56 282.03L476.73 289.13L481.91 290.77L487.08 290.32L492.25 291.3L497.42 289.18L502.59 293.39L507.76 293.42L512.94 300.5L518.11 304.24L523.28 298.16L528.45 298.93L533.62 302.87L538.79 306.03L543.97 301.85L549.14 301.47L554.31 310.24L559.48 313.26L564.65 318.16L569.82 310.86L575 310.08L580.17 313.26L585.34 313.96L590.51 315.36L595.68 316.76L600.85 316.76L606.03 319.56L611.2 320.96"/>
<path d="M99.2 89.96L104.37 94.63L109.54 99.24L114.72 103.13L119.89 106.73L125.06 111.14L130.23 114.37L135.4 118.03L140.57 120.97L145.75 125.27L150.92 128.47L156.09 131.42L161.26 135.74L166.43 137.51L171.6 141.58L176.78 141.05L181.95 145.28L187.12 147.92L192.29 151.39L197.46 153.63L202.63 161.9L207.81 164.09L212.98 166.28L218.15 166.93L223.32 171.09L228.49 175.97L233.66 179.36L238.84 176.93L244.01 179.59L249.18 182.03L254.35 184.96L259.52 188.16L264.69 191.5L269.87 191.77L275.04 193.68L280.21 200.35L285.38 199.88L290.55 204.46L295.72 207.18L300.9 211.37L306.07 213.33L311.24 214.8L316.41 216.63L321.58 223.27L326.75 220.83L331.93 224.02L337.1 229.5L342.27 228.14L347.44 235.32L352.61 232.8L357.78 232.93L362.96 241.41L368.13 240.45L373.3 245.92L378.47 248.21L383.64 254.56L388.82 253.21L393.99 253.85L399.16 255.18L404.33 256.55L409.5 258.32L414.67 261.89L419.85 265.44L425.02 267.28L430.19 271.64L435.36 271.16L440.53 277.29L445.7 275.77L450.88 280.63L456.05 283.22L461.22 283.92L466.39 291.55L471.56 289.08L476.73 293.44L481.91 299.77L487.08 296.09L492.25 297.25L497.42 301.73L502.59 307.91L507.76 303.52L512.94 307.66L518.11 299.61L523.28 308.14L528.45 308.59L533.62 308.46L538.79 309.44L543.97 313.03L549.14 312.72L554.31 311.94L559.48 314.25L564.65 315.32L569.82 320.62L575 322.5L580.17 331.16L585.34 336.59L590.51 328.66L595.68 317.46L600.85 318.16L606.03 318.16L611.2 319.56"/>
<path d="M99.2 89.96L104.37 94.71L109.54 99.38L114.72 102.82L119.89 107.03L125.06 110.89L130.23 114.42L135.4 117.99L140.57 121.11L145.75 124.31L150.92 129.31L156.09 131.33L161.26 133.1L166.43 135.76L171.6 140.36L176.78 142.2L181.95 145.96L187.12 150.36L192.29 154.95L197.46 157.39L202.63 159.55L207.81 165.34L212.98 168.15L218.15 169.58L223.32 169.37L228.49 174.09L233.66 177L238.84 179.51L244.01 183.15L249.18 187.54L254.35 188.45L259.52 188.96L264.69 195.51L269.87 197.86L275.04 203.42L280.21 201.28L285.38 205.02L290.55 203.87L295.72 209.71L300.9 208.35L306.07 210.84L311.24 210.6L316.41 218.28L321.58 216.98L326.75 224.51L331.93 229.44L337.1 229.25L342.27 232.21L347.44 232.99L352.61 239.94L357.78 239.11L362.96 242.75L368.13 247.33L373.3 247.84L378.47 243.39L383.64 248.55L388.82 249.7L393.99 246.75L399.16 257.23L404.33 258.54L409.5 260.52L414.67 259.53L419.85 261.72L425.02 267.16L430.19 275.75L435.36 276.17L440.53 277.45L445.7 281.61L450.88 278.26L456.05 281.59L461.22 285.26L466.39 287.08L471.56 293.59L476.73 291.63L481.91 292.41L487.08 299.87L492.25 298.7L497.42 295.42L502.59 296.11L507.76 298.82L512.94 295.86L518.11 300.97L523.28 297.83L528.45 302.1L533.62 307.25L538.79 310.7L543.97 315.05L549.14 319.03L554.31 317.95L559.48 311.82L564.65 318.81L569.82 319.25L575 322.06L580.17 319.76L585.34 323.53L590.51 314.66L595.68 316.06L600.85 316.06L606.03 318.86L611.2 320.26"/>
<path d="M99.2 89.96L104.37 94.58L109.54 99.32L114.72 102.65L119.89 106.95L125.06 110.89L130.23 115.26L135.4 119.22L140.57 123.66L145.75 127.11L150.92 130.66L156.09 133.26L161.26 135.45L166.43 138.38L171.6 142.06L176.78 146.34L181.95 149.24L187.12 155.21L192.29 154.92L197.46 160.77L202.63 162.96L207.81 168.82L212.98 171.62L218.15 175.86L223.32 180.16L228.49 183.06L233.66 186.05L238.84 189.35L244.01 191.94L249.18 195.13L254.35 197.74L259.52 202.38L264.69 204.29L269.87 206.24L275.04 209.78L280.21 211.76L285.38 213.8L290.55 213.57L295.72 217.43L300.9 218.52L306.07 219.43L311.24 220.43L316.41 226.79L321.58 223.19L326.75 228.44L331.93 229.87L337.1 233.03L342.27 235.96L347.44 240.67L352.61 242.57L357.78 238.35L362.96 248.12L368.13 246.46L373.3 243.18L378.47 245L383.64 246.13L388.82 251.33L393.99 248.56L399.16 254.1L404.33 256.15L409.5 255.35L414.67 261.2L419.85 268.41L425.02 265.94L430.19 267.71L435.36 274.47L440.53 274.45L445.7 276.94L450.88 277.17L456.05 281.79L461.22 276.64L466.39 283.92L471.56 282.93L476.73 281.82L481.91 285.4L487.08 289.54L492.25 293.08L497.42 298.98L502.59 300.83L507.76 299.58L512.94 301.29L518.11 304.59L523.28 305.41L528.45 308.78L533.62 315.75L538.79 315.36L543.97 316.78L549.14 320.3L554.31 322.09L559.48 321.13L564.65 319.34L569.82 316.85L575 315.13L580.17 325.56L585.34 332.39L590.51 325.86L595.68 329.36L600.85 315.36L606.03 317.46L611.2 320.26"/>
<path d="M99.2 89.96L104.37 94.64L109.54 99.23L114.72 103.47L119.89 106.78L125.06 110.81L130.23 115.07L135.4 118.22L140.57 120.98L145.75 125.73L150.92 127.39L156.09 131.18L161.26 135.68L166.43 138.61L171.6 141.37L176.78 144.76L181.95 145.5L187.12 149.55L192.29 153.31L197.46 160.93L202.63 164.39L207.81 164.91L212.98 173.32L218.15 173.49L223.32 176.16L228.49 178.11L233.66 179.95L238.84 181.1L244.01 186.15L249.18 190.91L254.35 189.83L259.52 190.8L264.69 193.97L269.87 202.95L275.04 200.1L280.21 207.23L285.38 203.49L290.55 208.58L295.72 212.41L300.9 217.06L306.07 219.7L311.24 223.74L316.41 224.75L321.58 225.86L326.75 232.43L331.93 233.07L337.1 237L342.27 233.89L347.44 239.33L352.61 241.25L357.78 240.49L362.96 243.58L368.13 244.67L373.3 242.64L378.47 246.12L383.64 245.02L388.82 245.11L393.99 257.85L399.16 256.87L404.33 257.52L409.5 256.67L414.67 265.04L419.85 265.57L425.02 264.14L430.19 267.19L435.36 270.21L440.53 269.5L445.7 272.02L450.88 275.88L456.05 272.81L461.22 274.61L466.39 276.83L471.56 278.57L476.73 286.19L481.91 291.72L487.08 293.36L492.25 294.18L497.42 291.71L502.59 289.91L507.76 290.59L512.94 289.1L518.11 295.86L523.28 301.96L528.45 299.6L533.62 302.38L538.79 310.53L543.97 314L549.14 315.22L554.31 314.64L559.48 321.61L564.65 324.45L569.82 321.52L575 322.1L580.17 316.96L585.34 320.73L590.51 324.46L595.68 313.26L600.85 314.66L606.03 316.76L611.2 319.56"/>
<path d="M99.2 89.96L104.37 94.66L109.54 99.19L114.72 103.28L119.89 107.26L125.06 111L130.23 113.94L135.4 118.64L140.57 122.24L145.75 125.18L150.92 127.05L156.09 131.8L161.26 133.38L166.43 138.39L171.6 140.44L176.78 143.2L181.95 149.38L187.12 152.26L192.29 155.67L197.46 162.14L202.63 163.98L207.81 169.43L212.98 171.07L218.15 172.96L223.32 174.92L228.49 176.27L233.66 178.94L238.84 180.7L244.01 182.5L249.18 190.75L254.35 187.06L259.52 190.84L264.69 192.61L269.87 197.37L275.04 198.99L280.21 200.85L285.38 203.1L290.55 207.06L295.72 206.53L300.9 206.38L306.07 207.15L311.24 211.11L316.41 214.56L321.58 218.26L326.75 222.31L331.93 223.43L337.1 227.92L342.27 225.75L347.44 229.71L352.61 232.88L357.78 231.75L362.96 238.77L368.13 241.76L373.3 249.57L378.47 243.03L383.64 248.34L388.82 249.65L393.99 248.34L399.16 253.62L404.33 258.61L409.5 255.24L414.67 264.66L419.85 266.21L425.02 264.33L430.19 272.45L435.36 272.73L440.53 273.24L445.7 271.19L450.88 275.9L456.05 283.11L461.22 282.86L466.39 285.21L471.56 289.43L476.73 290.24L481.91 295.52L487.08 287.63L492.25 289.88L497.42 298.44L502.59 302.81L507.76 299.54L512.94 298.86L518.11 301.1L523.28 298.41L528.45 302.3L533.62 306.34L538.79 306.85L543.97 304.3L549.14 310.21L554.31 312.41L559.48 316.27L564.65 319.78L569.82 323.41L575 326.75L580.17 329.76L585.34 335.19L590.51 327.96L595.68 315.36L600.85 316.76L606.03 318.86L611.2 320.26"/>
<path d="M99.2 89.96L104.37 94.57L109.54 99.31L114.72 103.3L119.89 107.42L125.06 111.01L130.23 114.97L135.4 119.15L140.57 124.12L145.75 125.88L150.92 129.42L156.09 131.4L161.26 136.04L166.43 139.08L171.6 145.54L176.78 147.66L181.95 154.41L187.12 158.08L192.29 160.86L197.46 163.01L202.63 160.97L207.81 162.93L212.98 166.97L218.15 167.63L223.32 172.97L228.49 174.36L233.66 175.81L238.84 179.13L244.01 183.6L249.18 187.22L254.35 192.16L259.52 192.64L264.69 196.01L269.87 198.66L275.04 200.03L280.21 202.69L285.38 205.6L290.55 210.32L295.72 216.45L300.9 214L306.07 214.71L311.24 218.82L316.41 220.74L321.58 222.42L326.75 222.29L331.93 227.22L337.1 233.98L342.27 236.19L347.44 234.01L352.61 236.42L357.78 239.3L362.96 241.61L368.13 243.9L373.3 249.17L378.47 252.4L383.64 252.67L388.82 248.52L393.99 253.59L399.16 249.64L404.33 254.1L409.5 259.71L414.67 253.85L419.85 258.42L425.02 264.19L430.19 262.86L435.36 264.25L440.53 271.93L445.7 272.03L450.88 277.01L456.05 274.34L461.22 278.54L466.39 281.61L471.56 283.89L476.73 284.91L481.91 289.84L487.08 290.77L492.25 291.29L497.42 292.5L502.59 295.35L507.76 294.98L512.94 298.8L518.11 300.89L523.28 302.58L528.45 303.04L533.62 301.98L538.79 306.29L543.97 310.59L549.14 307.26L554.31 308.09L559.48 310.17L564.65 315.06L569.82 318.98L575 323.18L580.17 329.06L585.34 311.16L590.51 312.56L595.68 314.66L600.85 317.46L606.03 318.16L611.2 320.26"/>
<path d="M99.2 89.96L104.37 94.61L109.54 99.24L114.72 103.43L119.89 107.28L125.06 110.75L130.23 115.5L135.4 118.5L140.57 121.69L145.75 125.53L150.92 128.2L156.09 131.44L161.26 136.32L166.43 138.47L171.6 144.21L176.78 145.46L181.95 149.3L187.12 155.69L192.29 157.54L197.46 160.36L202.63 162.72L207.81 167.96L212.98 171.33L218.15 169.49L223.32 173.41L228.49 180.16L233.66 182.34L238.84 182.65L244.01 183.66L249.18 185.76L254.35 186.99L259.52 192.09L264.69 195.14L269.87 196.19L275.04 201.05L280.21 203.9L285.38 204.82L290.55 208.63L295.72 213.57L300.9 212.19L306.07 215.63L311.24 217.32L316.41 220.78L321.58 223.45L326.75 221.36L331.93 223.4L337.1 231.98L342.27 231.7L347.44 232L352.61 242.6L357.78 242.45L362.96 248.26L368.13 246.19L373.3 250.44L378.47 248.16L383.64 248.17L388.82 248.18L393.99 250.79L399.16 255.58L404.33 254.76L409.5 260.29L414.67 258.51L419.85 264.48L425.02 264.98L430.19 262.5L435.36 267.8L440.53 274L445.7 274.94L450.88 275.95L456.05 285.68L461.22 279.93L466.39 283.72L471.56 289.45L476.73 285.56L481.91 297.01L487.08 293.57L492.25 304.17L497.42 302.33L502.59 300.76L507.76 300.79L512.94 303.48L518.11 308.42L523.28 308.95L528.45 311.26L533.62 312.25L538.79 313.32L543.97 309.29L549.14 313.5L554.31 308.66L559.48 312.67L564.65 318.08L569.82 316.47L575 320.63L580.17 327.66L585.34 333.79L590.51 327.26L595.68 314.66L600.85 316.06L606.03 316.76L611.2 320.26"/>
<path d="M99.2 89.96L104.37 94.51L109.54 99.34L114.72 102.81L119.89 106.53L125.06 111.14L130.23 114.86L135.4 117.57L140.57 121.42L145.75 125.47L150.92 129.35L156.09 132.89L161.26 135.56L166.43 138.65L171.6 141.69L176.78 143.22L181.95 144.63L187.12 147.03L192.29 152.4L197.46 157.13L202.63 160.34L207.81 162.34L212.98 165.87L218.15 169.97L223.32 172.7L228.49 172.08L233.66 172.28L238.84 183.3L244.01 189.51L249.18 189.27L254.35 192.94L259.52 196.69L264.69 197.71L269.87 201.66L275.04 204.61L280.21 208.36L285.38 207.07L290.55 213.07L295.72 213.4L300.9 220.36L306.07 220.01L311.24 224.96L316.41 226.26L321.58 229.19L326.75 229.81L331.93 229.95L337.1 236.07L342.27 240.08L347.44 236.38L352.61 242.62L357.78 244.46L362.96 248.69L368.13 248.1L373.3 251.87L378.47 255.7L383.64 257.88L388.82 261.72L393.99 264.87L399.16 267.19L404.33 268.53L409.5 271.93L414.67 273.88L419.85 277.27L425.02 280.88L430.19 285.63L435.36 280.82L440.53 283.87L445.7 287.98L450.88 284.82L456.05 286.09L461.22 283.09L466.39 287.48L471.56 291.1L476.73 290.53L481.91 287.1L487.08 297.1L492.25 295.67L497.42 301.87L502.59 303.48L507.76 303.55L512.94 311.77L518.11 316.16L523.28 311.85L528.45 315.89L533.62 317.37L538.79 318.03L543.97 324.35L549.14 332.26L554.31 333.24L559.48 334.62L564.65 345.1L569.82 342.9L575 347.89L580.17 360.46L585.34 359.23L590.51 342.66L595.68 348.96L600.85 362.03L606.03 319.56L611.2 319.56"/>
<path d="M99.2 89.96L104.37 94.59L109.54 99.4L114.72 103.1L119.89 106.83L125.06 110.58L130.23 114.46L135.4 118.47L140.57 121.5L145.75 124.43L150.92 127.22L156.09 130.57L161.26 133.25L166.43 137.54L171.6 141.19L176.78 144.1L181.95 145.87L187.12 150.8L192.29 154.97L197.46 159.1L202.63 161L207.81 166.85L212.98 170.75L218.15 175.59L223.32 170.89L228.49 177.65L233.66 176.39L238.84 179.42L244.01 186.13L249.18 184.18L254.35 184.46L259.52 193.7L264.69 190.09L269.87 195.45L275.04 198.14L280.21 199.72L285.38 205.62L290.55 205.04L295.72 209.86L300.9 213.45L306.07 212.96L311.24 210.38L316.41 218.27L321.58 220.03L326.75 222.11L331.93 226.25L337.1 226.24L342.27 225.85L347.44 230.97L352.61 232.28L357.78 238.33L362.96 235.03L368.13 244.51L373.3 243.32L378.47 246.84L383.64 250.04L388.82 256.86L393.99 258.22L399.16 260.68L404.33 261.74L409.5 268.03L414.67 269.18L419.85 265.83L425.02 267.38L430.19 275.74L435.36 276.59L440.53 282.85L445.7 276.7L450.88 283.79L456.05 287.96L461.22 282.94L466.39 281.82L471.56 284.44L476.73 292.43L481.91 289.11L487.08 292.37L492.25 296.27L497.42 298.85L502.59 298.3L507.76 302.66L512.94 295.48L518.11 296.34L523.28 299.59L528.45 301.92L533.62 301.84L538.79 302.25L543.97 302.7L549.14 306.16L554.31 315.22L559.48 313.17L564.65 317.76L569.82 320.92L575 320L580.17 324.86L585.34 329.59L590.51 324.46L595.68 313.26L600.85 314.66L606.03 316.06L611.2 320.96"/>
<path d="M99.2 89.96L104.37 94.62L109.54 99.23L114.72 102.88L119.89 107.43L125.06 112.22L130.23 115.51L135.4 119.7L140.57 123.55L145.75 127.12L150.92 130.12L156.09 132.56L161.26 134.39L166.43 137.44L171.6 141.71L176.78 145L181.95 147.06L187.12 149.53L192.29 153.85L197.46 155.47L202.63 158.02L207.81 162.14L212.98 168.31L218.15 171.1L223.32 169.98L228.49 174.09L233.66 178.74L238.84 182.42L244.01 185.95L249.18 191.66L254.35 193.11L259.52 193.71L264.69 199.03L269.87 195.94L275.04 201.03L280.21 201L285.38 208.84L290.55 207.45L295.72 207.47L300.9 212.38L306.07 219.67L311.24 216.56L316.41 218.78L321.58 224.03L326.75 225.93L331.93 225.56L337.1 230.28L342.27 232.06L347.44 237.29L352.61 240.94L357.78 243.78L362.96 239.79L368.13 248.69L373.3 249.18L378.47 250.15L383.64 252.76L388.82 252.02L393.99 256.82L399.16 260.01L404.33 267.42L409.5 268.23L414.67 270.47L419.85 265.4L425.02 269.26L430.19 267.36L435.36 269.04L440.53 274.97L445.7 274.55L450.88 273.24L456.05 272.9L461.22 279.86L466.39 277.45L471.56 282.67L476.73 287.91L481.91 285.86L487.08 290.2L492.25 291.1L497.42 288.36L502.59 293.41L507.76 296.54L512.94 299.17L518.11 300.39L523.28 303.27L528.45 301.79L533.62 304.32L538.79 304.34L543.97 308.69L549.14 310.4L554.31 314.75L559.48 314.85L564.65 318.34L569.82 315.39L575 323.46L580.17 329.76L585.34 334.49L590.51 314.66L595.68 315.36L600.85 316.76L606.03 318.16L611.2 320.26"/>
<path d="M99.2 89.96L104.37 94.53L109.54 99.16L114.72 103.07L119.89 107.07L125.06 110.97L130.23 113.91L135.4 117.4L140.57 121.48L145.75 125.45L150.92 129.18L156.09 132.24L161.26 136.59L166.43 140.15L171.6 141.84L176.78 144.2L181.95 145.72L187.12 150.62L192.29 154.22L197.46 156.57L202.63 157.55L207.81 163.79L212.98 162.56L218.15 166.52L223.32 173.28L228.49 176.51L233.66 179.03L238.84 185.69L244.01 189.34L249.18 189.83L254.35 194.21L259.52 193.94L264.69 197.2L269.87 204.82L275.04 206.66L280.21 205.72L285.38 209.54L290.55 210.39L295.72 210.14L300.9 212.7L306.07 214.93L311.24 215.15L316.41 219.96L321.58 220.56L326.75 228.14L331.93 228.91L337.1 234.56L342.27 232.47L347.44 231.55L352.61 238.25L357.78 245.02L362.96 245.41L368.13 247.65L373.3 249L378.47 249.15L383.64 249.79L388.82 260.78L393.99 255.06L399.16 259.64L404.33 262.3L409.5 262.14L414.67 267.82L419.85 271.14L425.02 270.49L430.19 269.22L435.36 266.19L440.53 264.36L445.7 270.07L450.88 275.52L456.05 274.71L461.22 282.14L466.39 283.57L471.56 287.61L476.73 288.67L481.91 288.47L487.08 291.01L492.25 296.91L497.42 301.39L502.59 301.3L507.76 303.62L512.94 302.13L518.11 303.42L523.28 309.03L528.45 308.36L533.62 311.13L538.79 310.02L543.97 310.61L549.14 311.22L554.31 314.58L559.48 313.14L564.65 312.76L569.82 315.05L575 317.88L580.17 322.76L585.34 328.19L590.51 323.06L595.68 327.96L600.85 313.26L606.03 316.06L611.2 320.96"/>
<path d="M99.2 89.96L104.37 94.52L109.54 99.21L114.72 102.86L119.89 107.16L125.06 111.74L130.23 116.01L135.4 119.08L140.57 122.23L145.75 124.22L150.92 126.64L156.09 130.98L161.26 133.47L166.43 137.07L171.6 141.24L176.78 145.4L181.95 148.63L187.12 150.92L192.29 155.73L197.46 157.41L202.63 161.04L207.81 165.5L212.98 169.21L218.15 173.41L223.32 173.9L228.49 178.69L233.66 178.98L238.84 180.23L244.01 185.99L249.18 189.75L254.35 187.54L259.52 191.96L264.69 193.37L269.87 194.02L275.04 199.33L280.21 203.28L285.38 203.12L290.55 206.94L295.72 210.47L300.9 210.23L306.07 212.24L311.24 214.45L316.41 218.45L321.58 223.33L326.75 226.4L331.93 228.42L337.1 231.37L342.27 226.65L347.44 232.14L352.61 234.31L357.78 241.04L362.96 238.83L368.13 243.93L373.3 239.93L378.47 253.49L383.64 253.55L388.82 250.1L393.99 252.48L399.16 260.45L404.33 258.53L409.5 258.01L414.67 267.34L419.85 267.37L425.02 270.97L430.19 275.57L435.36 270.52L440.53 272.29L445.7 276.53L450.88 269.51L456.05 280.06L461.22 281.61L466.39 276.61L471.56 282.51L476.73 280.92L481.91 283.78L487.08 285.18L492.25 286.67L497.42 289.87L502.59 291.05L507.76 292.07L512.94 289.06L518.11 298.96L523.28 301.29L528.45 300.12L533.62 302.12L538.79 301.82L543.97 303.96L549.14 311.43L554.31 310.46L559.48 315.41L564.65 319.78L569.82 319.52L575 323.79L580.17 327.66L585.34 332.39L590.51 327.26L595.68 332.16L600.85 316.06L606.03 317.46L611.2 320.96"/>
<path d="M99.2 89.96L104.37 94.64L109.54 99.33L114.72 103.12L119.89 106.89L125.06 110.42L130.23 114.45L135.4 117.15L140.57 121.98L145.75 125.61L150.92 128.63L156.09 133.04L161.26 137.21L166.43 137.78L171.6 143.27L176.78 144.37L181.95 151.33L187.12 153.02L192.29 156.67L197.46 160.27L202.63 164.04L207.81 162.63L212.98 166.12L218.15 171.02L223.32 172.68L228.49 174.88L233.66 179.98L238.84 182.86L244.01 189.67L249.18 192.06L254.35 192.78L259.52 192.18L264.69 196.87L269.87 201.82L275.04 203.25L280.21 209.17L285.38 207.84L290.55 209.91L295.72 211.66L300.9 210.06L306.07 213.04L311.24 211.73L316.41 218.37L321.58 216.33L326.75 219.13L331.93 221.62L337.1 226.34L342.27 223.52L347.44 226.32L352.61 231.49L357.78 234.92L362.96 236.31L368.13 236.2L373.3 240.36L378.47 243.71L383.64 245.35L388.82 249.03L393.99 250.68L399.16 251.02L404.33 258.82L409.5 258.92L414.67 268.14L419.85 268.9L425.02 271.14L430.19 274.93L435.36 278.73L440.53 278.66L445.7 280.32L450.88 278.62L456.05 284.87L461.22 290.04L466.39 286.53L471.56 289.1L476.73 296.74L481.91 294.36L487.08 301.14L492.25 300.38L497.42 297.11L502.59 297.71L507.76 301.45L512.94 305.34L518.11 307.08L523.28 304.61L528.45 304.68L533.62 303.27L538.79 302.63L543.97 306.46L549.14 308.23L554.31 312.95L559.48 311.43L564.65 311.8L569.82 314.08L575 318.11L580.17 326.26L585.34 322.13L590.51 311.86L595.68 314.66L600.85 315.36L606.03 318.16L611.2 320.26"/>
<path d="M99.2 89.96L104.37 94.59L109.54 99.16L114.72 102.94L119.89 107.88L125.06 111.23L130.23 114.43L135.4 119.49L140.57 122.39L145.75 127.07L150.92 129.81L156.09 132.76L161.26 138.26L166.43 139.98L171.6 141.89L176.78 145.44L181.95 148.21L187.12 152.49L192.29 154.05L197.46 156.1L202.63 157.58L207.81 161L212.98 163.36L218.15 166.62L223.32 175.49L228.49 174.24L233.66 179.24L238.84 184.06L244.01 183.58L249.18 187.36L254.35 188.89L259.52 188.42L264.69 196.6L269.87 200.37L275.04 198.83L280.21 203.95L285.38 207.6L290.55 204.35L295.72 207.94L300.9 214.5L306.07 215.59L311.24 214.61L316.41 215.91L321.58 223.36L326.75 222.02L331.93 223.97L337.1 228.78L342.27 227.88L347.44 235.33L352.61 236.41L357.78 233.75L362.96 238.46L368.13 236.51L373.3 235.37L378.47 238.69L383.64 240.37L388.82 248.45L393.99 248.02L399.16 246.41L404.33 254.78L409.5 259.36L414.67 259.55L419.85 259.86L425.02 266.53L430.19 270.25L435.36 270.79L440.53 272.37L445.7 279.06L450.88 276.76L456.05 281.13L461.22 286.4L466.39 282.85L471.56 288.14L476.73 287.81L481.91 285.48L487.08 282.49L492.25 290.67L497.42 299.23L502.59 297.43L507.76 298.46L512.94 299.17L518.11 297.91L523.28 300.3L528.45 304.14L533.62 308.22L538.79 307.51L543.97 313.64L549.14 308.64L554.31 311.46L559.48 310.25L564.65 319.65L569.82 308.69L575 315.67L580.17 320.46L585.34 311.86L590.51 313.96L595.68 315.36L600.85 316.06L606.03 318.16L611.2 319.56"/>
<path d="M99.2 89.96L104.37 94.61L109.54 99.2L114.72 102.97L119.89 107.21L125.06 111.47L130.23 115.33L135.4 119.51L140.57 121.49L145.75 125.4L150.92 127.51L156.09 131.09L161.26 133.06L166.43 136.68L171.6 141.27L176.78 143.45L181.95 148.26L187.12 149.44L192.29 156.72L197.46 157.34L202.63 163.05L207.81 167.92L212.98 168.05L218.15 170.13L223.32 174.13L228.49 174.98L233.66 179.17L238.84 181.22L244.01 185.56L249.18 187.89L254.35 188.35L259.52 196.49L264.69 196.47L269.87 199.5L275.04 203.47L280.21 203.8L285.38 207.26L290.55 207.66L295.72 213.05L300.9 214.61L306.07 215.18L311.24 222.22L316.41 224.11L321.58 219.41L326.75 225.63L331.93 230.96L337.1 226.61L342.27 227.65L347.44 232.04L352.61 233.91L357.78 241.65L362.96 238.53L368.13 244.4L373.3 245.72L378.47 244.77L383.64 247.51L388.82 249.31L393.99 256.86L399.16 250.88L404.33 254.42L409.5 251.67L414.67 260.37L419.85 258.81L425.02 264.09L430.19 260.2L435.36 270.19L440.53 272.45L445.7 269.25L450.88 276.66L456.05 282.95L461.22 277.6L466.39 279.13L471.56 283.68L476.73 287.23L481.91 285.68L487.08 295.51L492.25 290.93L497.42 293.36L502.59 294.79L507.76 294.77L512.94 297.88L518.11 300.99L523.28 295.94L528.45 303.39L533.62 309L538.79 305.94L543.97 306.65L549.14 312.68L554.31 316.56L559.48 322.3L564.65 318.85L569.82 317.79L575 319.83L580.17 326.96L585.34 332.39L590.51 340.56L595.68 347.56L600.85 313.96L606.03 316.76L611.2 320.26"/>
<path d="M99.2 89.96L104.37 94.56L109.54 99.25L114.72 103.05L119.89 107.79L125.06 111.38L130.23 114.65L135.4 118.46L140.57 122.58L145.75 125.56L150.92 129.44L156.09 131.99L161.26 135.17L166.43 137.86L171.6 140.86L176.78 143.18L181.95 146.28L187.12 150.39L192.29 153.74L197.46 157.91L202.63 162.4L207.81 165.68L212.98 166.23L218.15 169.39L223.32 170.52L228.49 171.68L233.66 176.31L238.84 181.94L244.01 182.49L249.18 188.59L254.35 191.25L259.52 189.37L264.69 193.71L269.87 198.08L275.04 200.88L280.21 204.66L285.38 212.26L290.55 208.4L295.72 213.72L300.9 211.75L306.07 219.51L311.24 220.07L316.41 224.47L321.58 224.08L326.75 229.02L331.93 229.5L337.1 234.51L342.27 236.87L347.44 234.66L352.61 236.33L357.78 237.43L362.96 237.19L368.13 240.73L373.3 252.84L378.47 248.34L383.64 254.36L388.82 252.87L393.99 251.46L399.16 256.12L404.33 258.54L409.5 255.85L414.67 260.99L419.85 257.55L425.02 262.36L430.19 267.45L435.36 269.63L440.53 275.35L445.7 279.65L450.88 283.33L456.05 280.95L461.22 281.84L466.39 278.51L471.56 288.21L476.73 294.01L481.91 298.64L487.08 303.94L492.25 301.99L497.42 298.39L502.59 309.68L507.76 311.99L512.94 301.94L518.11 311.99L523.28 308.78L528.45 313.02L533.62 307.02L538.79 304.65L543.97 308.86L549.14 312.03L554.31 317.88L559.48 319.32L564.65 320.64L569.82 323.77L575 325.21L580.17 331.16L585.34 336.59L590.51 329.36L595.68 316.76L600.85 317.46L606.03 318.86L611.2 319.56"/>
<path d="M99.2 89.96L104.37 94.6L109.54 99.18L114.72 103.27L119.89 106.97L125.06 110.67L130.23 114.34L135.4 118.22L140.57 121.03L145.75 124.95L150.92 129.32L156.09 134.01L161.26 138.68L166.43 139.05L171.6 143.07L176.78 145.84L181.95 148.97L187.12 156.34L192.29 158.39L197.46 157.39L202.63 161.15L207.81 164.16L212.98 170.09L218.15 168.92L223.32 171.43L228.49 174.62L233.66 173.33L238.84 177.66L244.01 180.63L249.18 182.34L254.35 185.95L259.52 188.3L264.69 193.02L269.87 195.35L275.04 200.58L280.21 203.2L285.38 207.48L290.55 212.85L295.72 210.39L300.9 214.34L306.07 218.82L311.24 218.84L316.41 222.48L321.58 219.31L326.75 228.15L331.93 221.21L337.1 230.02L342.27 228.07L347.44 229.5L352.61 231.63L357.78 231.7L362.96 234.96L368.13 237.73L373.3 240.06L378.47 236.32L383.64 240.27L388.82 244.95L393.99 248.2L399.16 250.71L404.33 253.81L409.5 256.36L414.67 264.76L419.85 264.96L425.02 270.19L430.19 268.56L435.36 270.46L440.53 277.28L445.7 277.95L450.88 280.26L456.05 282.68L461.22 289.32L466.39 285.28L471.56 287.71L476.73 292.87L481.91 290.63L487.08 291.91L492.25 301.18L497.42 299.16L502.59 300.05L507.76 297.54L512.94 304.59L518.11 309.4L523.28 308.53L528.45 313.16L533.62 317.96L538.79 315.59L543.97 320.08L549.14 316.74L554.31 317.14L559.48 327.03L564.65 332.4L569.82 329.97L575 328.3L580.17 331.86L585.34 337.29L590.51 330.06L595.68 332.86L600.85 340.79L606.03 318.86L611.2 320.26"/>
<path d="M99.2 89.96L104.37 94.68L109.54 99.4L114.72 103.01L119.89 106.53L125.06 110.26L130.23 114.11L135.4 117.26L140.57 121.81L145.75 125.99L150.92 128.29L156.09 132.87L161.26 137.08L166.43 139.16L171.6 142.77L176.78 143.8L181.95 144.48L187.12 149.91L192.29 151.31L197.46 155.62L202.63 161.31L207.81 167.55L212.98 168.33L218.15 170.6L223.32 175.61L228.49 179.23L233.66 180.71L238.84 183.92L244.01 183.31L249.18 188.93L254.35 187.3L259.52 190.54L264.69 195.05L269.87 203.12L275.04 201.55L280.21 206.46L285.38 202.9L290.55 206.2L295.72 211.16L300.9 213.47L306.07 213.54L311.24 217.74L316.41 222.28L321.58 220.8L326.75 223.4L331.93 227.39L337.1 229.41L342.27 232.17L347.44 234.54L352.61 236.31L357.78 242.71L362.96 243.56L368.13 247.14L373.3 246.97L378.47 248.09L383.64 246.44L388.82 244.89L393.99 247.09L399.16 254.6L404.33 256.22L409.5 263.04L414.67 265.33L419.85 265.73L425.02 272.7L430.19 273.85L435.36 279.46L440.53 276.07L445.7 280.65L450.88 277.82L456.05 282.31L461.22 285.03L466.39 291.52L471.56 294.51L476.73 297.25L481.91 296.85L487.08 303.71L492.25 297L497.42 297.78L502.59 306.54L507.76 306.45L512.94 304.89L518.11 302.21L523.28 305L528.45 307.71L533.62 310.75L538.79 311.72L543.97 309.11L549.14 314.38L554.31 321.19L559.48 320.75L564.65 324.14L569.82 324.67L575 326.55L580.17 333.96L585.34 337.99L590.51 344.06L595.68 351.76L600.85 318.86L606.03 320.26L611.2 319.56"/>
<path d="M99.2 89.96L104.37 94.57L109.54 99.05L114.72 102.94L119.89 107.44L125.06 110.44L130.23 115.21L135.4 118.97L140.57 122.76L145.75 125.83L150.92 130.48L156.09 133.59L161.26 134.94L166.43 137.89L171.6 142.72L176.78 143.7L181.95 148.81L187.12 152.22L192.29 154.37L197.46 158.88L202.63 162.91L207.81 163.27L212.98 171.54L218.15 173.36L223.32 174.68L228.49 179.87L233.66 181.71L238.84 184.74L244.01 184.14L249.18 188.99L254.35 190.07L259.52 193.7L264.69 196.85L269.87 200.57L275.04 201.05L280.21 206.64L285.38 212.45L290.55 209.36L295.72 213.36L300.9 213.24L306.07 220.84L311.24 217.65L316.41 215.31L321.58 221.15L326.75 225.57L331.93 224.42L337.1 223.69L342.27 224.7L347.44 228.33L352.61 228.87L357.78 231.56L362.96 231.13L368.13 234.21L373.3 233.99L378.47 236.06L383.64 241.25L388.82 240.93L393.99 246.7L399.16 247.98L404.33 251.68L409.5 250.65L414.67 257.92L419.85 257.64L425.02 265.18L430.19 266.09L435.36 265.3L440.53 269.82L445.7 278L450.88 277.43L456.05 275.85L461.22 285.86L466.39 284.97L471.56 291.52L476.73 290.92L481.91 288.52L487.08 292.23L492.25 294.09L497.42 302.37L502.59 301.49L507.76 301.58L512.94 298.8L518.11 296.52L523.28 305.6L528.45 302.86L533.62 307.09L538.79 312.89L543.97 306.05L549.14 313.06L554.31 313.08L559.48 316.63L564.65 322.54L569.82 325L575 325L580.17 329.06L585.34 333.79L590.51 313.96L595.68 314.66L600.85 316.76L606.03 318.16L611.2 320.96"/>
<path d="M99.2 89.96L104.37 94.52L109.54 98.99L114.72 102.95L119.89 106.43L125.06 111.23L130.23 115.17L135.4 119.4L140.57 122.21L145.75 125.97L150.92 128.69L156.09 132.63L161.26 136.77L166.43 138.57L171.6 143.53L176.78 147.36L181.95 150.99L187.12 152.99L192.29 156.19L197.46 157.65L202.63 160.95L207.81 169.13L212.98 170.3L218.15 172.81L223.32 173.04L228.49 176.15L233.66 177.73L238.84 183.3L244.01 183.56L249.18 188.58L254.35 190.87L259.52 200.86L264.69 200.78L269.87 197.22L275.04 201.66L280.21 206.93L285.38 206.73L290.55 210.59L295.72 218.45L300.9 224.09L306.07 227.08L311.24 227.82L316.41 235.79L321.58 231.93L326.75 236.63L331.93 235.05L337.1 234.81L342.27 238.9L347.44 241.19L352.61 241.98L357.78 242.29L362.96 245.15L368.13 245.71L373.3 245.47L378.47 247.01L383.64 247.84L388.82 249.53L393.99 253.85L399.16 260.76L404.33 256.17L409.5 259.04L414.67 260.55L419.85 262.31L425.02 270.68L430.19 270.36L435.36 277.72L440.53 275.68L445.7 280.66L450.88 275.21L456.05 279.32L461.22 284.41L466.39 285.14L471.56 288.59L476.73 296.79L481.91 297.81L487.08 300.45L492.25 292.27L497.42 300.39L502.59 310.15L507.76 301.36L512.94 299.81L518.11 308.93L523.28 300.47L528.45 310.22L533.62 310.58L538.79 316.64L543.97 316.29L549.14 322.09L554.31 323.5L559.48 328.25L564.65 326.94L569.82 333.74L575 333.63L580.17 344.86L585.34 333.09L590.51 339.16L595.68 313.26L600.85 316.06L606.03 316.76L611.2 320.26"/>
<path d="M99.2 89.96L104.37 94.67L109.54 99.32L114.72 103.01L119.89 107.54L125.06 110.89L130.23 114.26L135.4 117.53L140.57 121.4L145.75 124.23L150.92 127.95L156.09 130.16L161.26 134.44L166.43 136.91L171.6 140.84L176.78 146.55L181.95 147.7L187.12 149.71L192.29 153.42L197.46 155.68L202.63 163.51L207.81 168.01L212.98 167.62L218.15 168.95L223.32 175.26L228.49 177.07L233.66 180.33L238.84 186.92L244.01 185.45L249.18 187.6L254.35 189.78L259.52 196.07L264.69 198L269.87 197.54L275.04 198.24L280.21 202.54L285.38 201.09L290.55 205.61L295.72 212.48L300.9 208.8L306.07 214.82L311.24 215.43L316.41 220.34L321.58 227.16L326.75 224.41L331.93 232.36L337.1 233.87L342.27 231.09L347.44 233.22L352.61 239.5L357.78 241.67L362.96 242.89L368.13 248.85L373.3 249.92L378.47 249.38L383.64 255.91L388.82 252.03L393.99 258.55L399.16 249.03L404.33 262.94L409.5 260.45L414.67 266.31L419.85 265.95L425.02 269.03L430.19 270.76L435.36 272.33L440.53 272.38L445.7 274L450.88 280.27L456.05 283.42L461.22 290.07L466.39 287.35L471.56 289.83L476.73 295.12L481.91 293.31L487.08 291.23L492.25 294.69L497.42 297.94L502.59 299.38L507.76 292.07L512.94 295.92L518.11 299.93L523.28 298.88L528.45 301.16L533.62 301.53L538.79 307.55L543.97 308.28L549.14 310.82L554.31 317.43L559.48 316.43L564.65 317.2L569.82 321.78L575 320.54L580.17 331.16L585.34 336.59L590.51 329.36L595.68 316.06L600.85 317.46L606.03 318.16L611.2 319.56"/>
<path d="M99.2 89.96L104.37 94.6L109.54 99.14L114.72 102.89L119.89 107.04L125.06 110.78L130.23 115.2L135.4 118.69L140.57 121.97L145.75 125.43L150.92 128.96L156.09 132.83L161.26 134.61L166.43 136.91L171.6 140.8L176.78 145.13L181.95 146.06L187.12 148.39L192.29 153.74L197.46 157.36L202.63 160.67L207.81 165.08L212.98 166.07L218.15 167.64L223.32 168.74L228.49 172.4L233.66 173.91L238.84 176.36L244.01 183.54L249.18 186.77L254.35 186.61L259.52 191.8L264.69 194.03L269.87 199.11L275.04 199.65L280.21 202.07L285.38 207.77L290.55 207.5L295.72 209.11L300.9 209.15L306.07 215.78L311.24 219.55L316.41 217.85L321.58 223.65L326.75 223.72L331.93 225.77L337.1 227.35L342.27 233.26L347.44 237.53L352.61 232.75L357.78 238.17L362.96 240.08L368.13 233.05L373.3 239.54L378.47 248.26L383.64 250.6L388.82 256.66L393.99 259.54L399.16 263.2L404.33 255.8L409.5 259.11L414.67 262.96L419.85 266.18L425.02 265.85L430.19 266.94L435.36 274.84L440.53 272.77L445.7 277.82L450.88 275.96L456.05 281.57L461.22 288.44L466.39 287.42L471.56 283.72L476.73 292.49L481.91 293.16L487.08 292.85L492.25 291.69L497.42 298.68L502.59 301.22L507.76 301.74L512.94 301.29L518.11 299.59L523.28 303.81L528.45 311.1L533.62 303.96L538.79 309.57L543.97 314.06L549.14 312.19L554.31 310.05L559.48 313.24L564.65 318.36L569.82 320.12L575 320.27L580.17 325.56L585.34 330.99L590.51 338.46L595.68 346.86L600.85 338.69L606.03 351.06L611.2 319.56"/>
<path d="M99.2 89.96L104.37 94.61L109.54 99.34L114.72 102.99L119.89 108.31L125.06 112.67L130.23 116.67L135.4 120.86L140.57 123.32L145.75 126.67L150.92 131.21L156.09 134.8L161.26 138.11L166.43 141.79L171.6 144.31L176.78 145.97L181.95 147.37L187.12 149.18L192.29 154.3L197.46 158.3L202.63 156.73L207.81 158.62L212.98 163.83L218.15 164.35L223.32 167.2L228.49 173.37L233.66 176.15L238.84 180.79L244.01 181.75L249.18 182.11L254.35 184.43L259.52 189.87L264.69 191.59L269.87 195.45L275.04 198.51L280.21 201.32L285.38 206.02L290.55 205.33L295.72 206.12L300.9 207.45L306.07 211.65L311.24 215.35L316.41 216.96L321.58 218.14L326.75 220.2L331.93 223.12L337.1 226.82L342.27 226.91L347.44 227.65L352.61 234.1L357.78 234.86L362.96 245.18L368.13 242.3L373.3 249.85L378.47 242.35L383.64 246.38L388.82 253.04L393.99 253.31L399.16 258.3L404.33 261.48L409.5 263.75L414.67 261.07L419.85 274.02L425.02 268.77L430.19 275.61L435.36 275.57L440.53 277.3L445.7 277.06L450.88 279.42L456.05 278.93L461.22 282.23L466.39 287.69L471.56 287.38L476.73 295.1L481.91 292.51L487.08 295.11L492.25 294.92L497.42 295.65L502.59 290.9L507.76 288.36L512.94 294.07L518.11 301.86L523.28 297.47L528.45 302.6L533.62 300.49L538.79 300.1L543.97 303.5L549.14 306.39L554.31 311.75L559.48 320.6L564.65 323.23L569.82 323.88L575 321.82L580.17 329.06L585.34 333.79L590.51 315.36L595.68 316.76L600.85 316.06L606.03 318.86L611.2 319.56"/>
<path d="M99.2 89.96L104.37 94.57L109.54 99.18L114.72 103.26L119.89 107.17L125.06 111.14L130.23 114.79L135.4 118.4L140.57 121.16L145.75 125.12L150.92 127.32L156.09 131.47L161.26 132.61L166.43 136.66L171.6 139.76L176.78 143.89L181.95 145.18L187.12 148.42L192.29 151.58L197.46 154.18L202.63 160.96L207.81 164.77L212.98 168.67L218.15 171.79L223.32 173.19L228.49 179.66L233.66 183.38L238.84 187.27L244.01 188.29L249.18 191.04L254.35 192.06L259.52 194.37L264.69 191.05L269.87 197.71L275.04 196.2L280.21 203.25L285.38 203.53L290.55 208.18L295.72 206.97L300.9 210.58L306.07 209.17L311.24 211.53L316.41 212.78L321.58 217.84L326.75 221.81L331.93 220.12L337.1 224.97L342.27 230.8L347.44 228.99L352.61 234.14L357.78 234.71L362.96 241.28L368.13 242.72L373.3 245.78L378.47 250.01L383.64 245.66L388.82 252.46L393.99 253.66L399.16 254.45L404.33 260.29L409.5 267.37L414.67 265.55L419.85 268.07L425.02 268.68L430.19 270.34L435.36 271.75L440.53 270.47L445.7 274.77L450.88 272.38L456.05 283.48L461.22 281.77L466.39 282.52L471.56 288.82L476.73 291.18L481.91 292.99L487.08 294.66L492.25 297.72L497.42 296.92L502.59 299.69L507.76 301.18L512.94 297.72L518.11 296.05L523.28 302.65L528.45 302.52L533.62 305.95L538.79 307.44L543.97 310.41L549.14 311.17L554.31 315.46L559.48 315.22L564.65 321.52L569.82 312.01L575 317.2L580.17 323.46L585.34 329.59L590.51 323.76L595.68 327.96L600.85 335.89L606.03 316.76L611.2 319.56"/>
<path d="M99.2 89.96L104.37 94.53L109.54 99.3L114.72 103.12L119.89 108L125.06 111.52L130.23 114.65L135.4 120.58L140.57 125.07L145.75 128.32L150.92 131.47L156.09 135.61L161.26 140.42L166.43 140.91L171.6 143.82L176.78 146.92L181.95 146.3L187.12 149.58L192.29 152.17L197.46 156.69L202.63 157.76L207.81 161.04L212.98 161.78L218.15 163.97L223.32 171.17L228.49 170.51L233.66 173.05L238.84 173.42L244.01 177.42L249.18 181.86L254.35 184.74L259.52 188.77L264.69 191.07L269.87 191.66L275.04 195.79L280.21 197.08L285.38 203.26L290.55 199.12L295.72 203.56L300.9 206.25L306.07 212.46L311.24 216.96L316.41 218.39L321.58 219.31L326.75 217.02L331.93 220.23L337.1 227.86L342.27 225.77L347.44 228.18L352.61 235.78L357.78 237.6L362.96 240.34L368.13 245.58L373.3 251.32L378.47 253.11L383.64 249.38L388.82 254.27L393.99 257.18L399.16 254.49L404.33 263.99L409.5 257.19L414.67 265.26L419.85 266.6L425.02 263.62L430.19 275.29L435.36 277.62L440.53 269.45L445.7 277.15L450.88 278.87L456.05 279.28L461.22 277.59L466.39 280.65L471.56 289.82L476.73 294.63L481.91 297.97L487.08 297.78L492.25 295.14L497.42 300.56L502.59 296.19L507.76 304.79L512.94 305.44L518.11 302.76L523.28 305.3L528.45 307.03L533.62 309.34L538.79 310.72L543.97 308.04L549.14 307.2L554.31 314.23L559.48 317.94L564.65 321.45L569.82 322.27L575 323.67L580.17 329.76L585.34 334.49L590.51 313.96L595.68 314.66L600.85 316.76L606.03 318.16L611.2 320.26"/>
<path d="M99.2 89.96L104.37 94.67L109.54 99.44L114.72 103.05L119.89 107.3L125.06 110.34L130.23 115.33L135.4 118.6L140.57 121.84L145.75 126.29L150.92 127.76L156.09 132.82L161.26 134.53L166.43 137.7L171.6 142.43L176.78 144.06L181.95 147.44L187.12 150.14L192.29 150.66L197.46 154.93L202.63 157.59L207.81 159.43L212.98 162.91L218.15 169.57L223.32 170.23L228.49 173.01L233.66 174.54L238.84 177.84L244.01 180.78L249.18 182.43L254.35 188.12L259.52 189.89L264.69 192.95L269.87 194.26L275.04 196.38L280.21 200.62L285.38 207.06L290.55 207.28L295.72 209.37L300.9 211.9L306.07 215.14L311.24 215.72L316.41 219.82L321.58 227.03L326.75 222.26L331.93 224.99L337.1 222.56L342.27 224.75L347.44 229.44L352.61 230.86L357.78 238.48L362.96 244.04L368.13 242.99L373.3 247.29L378.47 252.46L383.64 252.34L388.82 254.03L393.99 256.3L399.16 255.5L404.33 260.56L409.5 266.66L414.67 270.28L419.85 269.46L425.02 276.19L430.19 272.92L435.36 274.29L440.53 277.99L445.7 283.88L450.88 275.06L456.05 282.8L461.22 286.88L466.39 286.76L471.56 285.93L476.73 286.6L481.91 289.08L487.08 301.78L492.25 298.99L497.42 307.03L502.59 301.46L507.76 302.79L512.94 310.97L518.11 300.3L523.28 307.73L528.45 306.47L533.62 312.58L538.79 313.45L543.97 316.98L549.14 309.35L554.31 312.62L559.48 312.37L564.65 319.43L569.82 323.01L575 327.93L580.17 333.96L585.34 337.99L590.51 344.76L595.68 334.96L600.85 319.56L606.03 318.86L611.2 319.56"/>
<path d="M99.2 89.96L104.37 94.57L109.54 99.24L114.72 103.22L119.89 107.23L125.06 110.62L130.23 114.08L135.4 117.98L140.57 121.02L145.75 125.85L150.92 130.17L156.09 131.65L161.26 134.32L166.43 136.72L171.6 137.99L176.78 142.7L181.95 147.69L187.12 147.72L192.29 152.36L197.46 154.15L202.63 158.9L207.81 162L212.98 164.48L218.15 165.18L223.32 169.46L228.49 176.35L233.66 177.64L238.84 182.63L244.01 182.57L249.18 188.76L254.35 188.82L259.52 191.93L264.69 194L269.87 197.69L275.04 201.02L280.21 202.87L285.38 209.8L290.55 206.31L295.72 211.35L300.9 214.99L306.07 218.73L311.24 219.94L316.41 217.02L321.58 215.48L326.75 226.9L331.93 224.66L337.1 231.22L342.27 228.48L347.44 232.65L352.61 236.2L357.78 237.22L362.96 238.68L368.13 243.07L373.3 250.63L378.47 254.84L383.64 255.88L388.82 257.4L393.99 246.5L399.16 247.57L404.33 248.1L409.5 250.43L414.67 249.64L419.85 258.21L425.02 255.77L430.19 261.62L435.36 268.98L440.53 274.79L445.7 271.77L450.88 279.08L456.05 281.45L461.22 281.96L466.39 283.94L471.56 281.45L476.73 288.17L481.91 290.11L487.08 294.62L492.25 297.37L497.42 300.11L502.59 301.72L507.76 296.63L512.94 304.66L518.11 307.31L523.28 304.96L528.45 303.14L533.62 311.03L538.79 310.22L543.97 311.89L549.14 311.85L554.31 317.26L559.48 319.75L564.65 320.93L569.82 317.79L575 311.41L580.17 308.71L585.34 309.76L590.51 312.56L595.68 313.26L600.85 315.36L606.03 317.46L611.2 320.26"/>
<path d="M99.2 89.96L104.37 94.55L109.54 99.26L114.72 103.22L119.89 107.6L125.06 112.25L130.23 114.55L135.4 118.68L140.57 122.24L145.75 124.92L150.92 128.26L156.09 132.51L161.26 135.01L166.43 137.83L171.6 139.15L176.78 143.67L181.95 146.59L187.12 147.47L192.29 153.45L197.46 157.11L202.63 156.79L207.81 164.19L212.98 167.05L218.15 173.07L223.32 170.81L228.49 172.97L233.66 175.74L238.84 181.54L244.01 179.95L249.18 184.5L254.35 188.3L259.52 186.59L264.69 194.06L269.87 197.07L275.04 198.4L280.21 205.25L285.38 202.49L290.55 206.14L295.72 212.43L300.9 210.88L306.07 216.12L311.24 214.59L316.41 220.87L321.58 224.31L326.75 229.39L331.93 228.92L337.1 233.8L342.27 234.89L347.44 235.24L352.61 239.81L357.78 244.46L362.96 240.72L368.13 246.18L373.3 247.78L378.47 246.96L383.64 254.79L388.82 255.65L393.99 246.16L399.16 254.5L404.33 260.4L409.5 258.95L414.67 262.19L419.85 266.41L425.02 262.99L430.19 267.48L435.36 269.51L440.53 272.2L445.7 275.59L450.88 276.51L456.05 273.63L461.22 278.23L466.39 277.13L471.56 280.33L476.73 284.23L481.91 284.69L487.08 291.18L492.25 288.09L497.42 285.8L502.59 285.39L507.76 293.04L512.94 293.58L518.11 299.01L523.28 302.14L528.45 312.99L533.62 307.13L538.79 307.99L543.97 309.07L549.14 314.42L554.31 312.21L559.48 312.41L564.65 319.28L569.82 308.82L575 309.52L580.17 312.56L585.34 315.36L590.51 315.36L595.68 316.06L600.85 317.46L606.03 318.16L611.2 319.56"/>
</g>
<path d="M99.2 89.96L104.37 94.59L105.17 95.29M111.21 100.53L114.72 103.51L117.39 105.61M123.69 110.54L125.06 111.62L130.06 115.38M136.49 120.14L140.57 123.03L143.08 124.67M149.76 129.07L150.92 129.83L156.09 133.28L156.42 133.5M163.37 137.26L166.43 137.99L171.26 138.43M177.7 143.1L181.95 146.32L184.13 147.86M190.72 152.39L192.29 153.45L197.46 154.89L198.09 155.27M204.9 159.47L207.81 161.26L212.16 162.72M218.32 167.71L223.32 172.29L224.13 173.01M230.41 177.34L233.66 178.21L237.96 179M244.21 183.4L249.18 183.4L251.81 184.26M258.67 187.79L259.52 188.32L264.69 189.48L266.18 189.73M273.8 191.51L275.04 191.88L279.43 196.79M285.59 201.64L290.55 204.43L292.45 205.46M299.2 209.46L300.9 210.53L306.07 212.15L306.4 212.4M312.91 216.73L316.41 218.2L320.41 218.76M327.3 222.36L331.93 224.76L334.38 225.72M341.89 227.89L342.27 227.98L347.44 227.69L349.66 228.12M356.57 231.47L357.78 232.32L362.95 236.07M370.32 238.74L373.3 239.86L377.45 241.96M383.28 247.17L383.64 247.53L388.82 250.69L389.89 251.37M396.77 255.06L399.16 256.01L404.33 255.42L404.37 255.44M411.76 257.66L414.67 257.71L419.57 257.38M425.85 261.79L430.19 268.32L430.22 268.34M436.64 271.57L440.53 273.81L443.02 274.87M449.62 277.66L450.88 278.19L456.05 280.77L456.09 280.77M463.12 280.2L466.39 280.66L470.04 281.82M477.08 282.38L481.91 283.57L484.32 284.51M491.52 287.77L492.25 288.13L497.42 289.13L499.14 289.75M506.43 292.8L507.76 293.43L512.94 296.43L513.27 296.75M519.31 301.49L523.28 301.74L527.08 302.75M534.68 304.85L538.79 306.6L541.82 304.96M547.35 308.12L549.14 310.4L553.84 312.18M560.27 316.77L564.65 320.43L566.4 321.81M572.73 326.6L575 328.21L579.12 331.32M585.06 336.59L585.34 336.85L587.25 329.5M589.27 321.78L590.51 317L593.51 316.6M600.97 318.51L606.03 320L608.65 320.41" fill="none" stroke="#000" stroke-width="2" stroke-linecap="round" stroke-linejoin="round"/>
<path d="M78.72 320.96H631.68" fill="none" stroke="#000" stroke-width="1" stroke-dasharray="5.333 5.333" stroke-linecap="round"/>
<g fill="none" stroke="#000" stroke-width="1" stroke-linecap="round" stroke-linejoin="round">
<rect x="78.72" y="78.72" width="552.96" height="303.36"/>
<path d="M99.2 382.08H616.37M99.2 382.08v9.6M202.63 382.08v9.6M306.07 382.08v9.6M409.5 382.08v9.6M512.94 382.08v9.6M616.37 382.08v9.6"/>
<path d="M78.72 320.96V110.96M78.72 320.96h-9.6M78.72 250.96h-9.6M78.72 180.96h-9.6M78.72 110.96h-9.6"/>
</g>
<g font-family="'Liberation Sans', Arial, Helvetica, sans-serif" font-size="16" fill="#000">
<text x="99.2" y="416.6" text-anchor="middle">0.0</text>
<text x="202.63" y="416.6" text-anchor="middle">0.2</text>
<text x="306.07" y="416.6" text-anchor="middle">0.4</text>
<text x="409.5" y="416.6" text-anchor="middle">0.6</text>
<text x="512.94" y="416.6" text-anchor="middle">0.8</text>
<text x="616.37" y="416.6" text-anchor="middle">1.0</text>
<text transform="translate(56.2 321.46) rotate(-90)" text-anchor="middle">0.0</text>
<text transform="translate(56.2 251.46) rotate(-90)" text-anchor="middle">0.1</text>
<text transform="translate(56.2 181.46) rotate(-90)" text-anchor="middle">0.2</text>
<text transform="translate(56.2 111.46) rotate(-90)" text-anchor="middle">0.3</text>
<text x="355.2" y="455.6" text-anchor="middle">Estimated risk</text>
<text transform="translate(17.4 230.4) rotate(-90)" text-anchor="middle">Net Benefit</text>
<rect x="408.8" y="89.95" width="202.4" height="57.6" fill="#fff" stroke="#000" stroke-width="1" stroke-linejoin="round"/>
<path d="M423.2 109.15H452" fill="none" stroke="#000" stroke-width="2" stroke-dasharray="8 8" stroke-linecap="round"/>
<path d="M423.2 128.35H452" fill="none" stroke="#7f7f7f" stroke-opacity="0.5" stroke-width="1" stroke-linecap="round"/>
<text x="466.2" y="114.9">Original</text>
<text x="466.2" y="134.1">Bootstrap (n = 100)</text>
</g>
</svg>
</body>
</html>
